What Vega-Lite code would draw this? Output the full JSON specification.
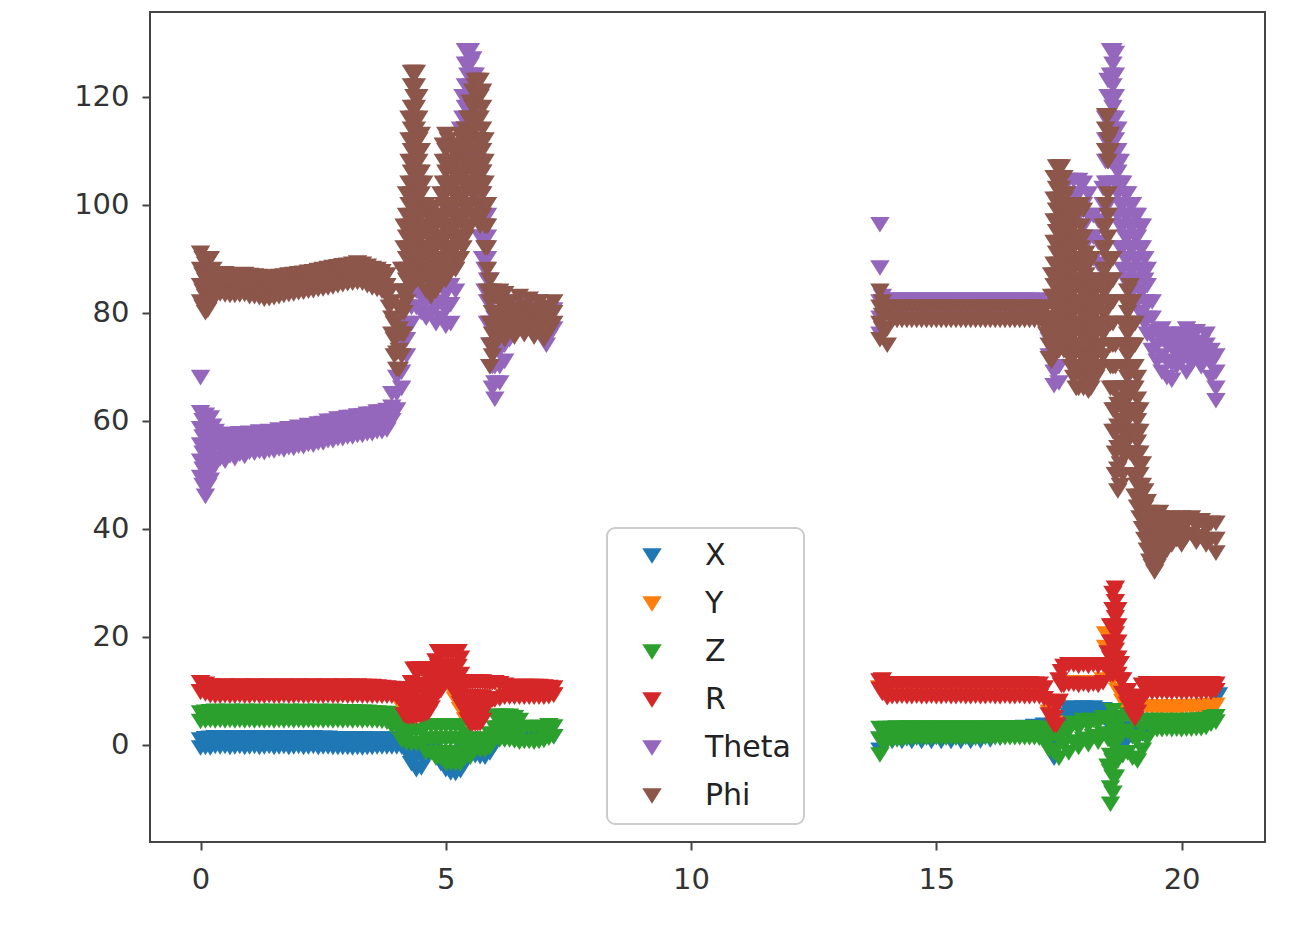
{
"$schema": "https://vega.github.io/schema/vega-lite/v6.json",
"width": 1115, "height": 830,
"autosize": {"type": "none"},
"padding": {"left": 150, "top": 12, "right": 35, "bottom": 85},
"background": "white",
"config": {
 "view": {"stroke": "#444444", "strokeWidth": 2},
 "axis": {"grid": false, "domain": false, "labelFont": "DejaVu Sans", "labelFontSize": 29, "labelColor": "#333333", "tickColor": "#444444", "tickWidth": 2, "tickSize": 8, "title": null},
 "legend": {"strokeWidth": 2}
},
"data": {"values": [
{"s":"X","t":0,"v":-0.6},{"s":"X","t":0,"v":0.9},{"s":"X","t":0.1,"v":1.1},{"s":"X","t":0.1,"v":-0.5},{"s":"X","t":0.2,"v":1.2},{"s":"X","t":0.2,"v":-0.6},{"s":"X","t":0.3,"v":1.3},{"s":"X","t":0.3,"v":-0.3},{"s":"X","t":0.4,"v":1.2},{"s":"X","t":0.4,"v":-0.4},{"s":"X","t":0.5,"v":1.3},{"s":"X","t":0.5,"v":-0.3},{"s":"X","t":0.6,"v":1.1},{"s":"X","t":0.6,"v":-0.5},{"s":"X","t":0.7,"v":1.2},{"s":"X","t":0.7,"v":-0.4},{"s":"X","t":0.8,"v":1.3},{"s":"X","t":0.8,"v":-0.3},{"s":"X","t":0.9,"v":1.1},{"s":"X","t":0.9,"v":-0.5},{"s":"X","t":1,"v":1.2},{"s":"X","t":1,"v":-0.4},{"s":"X","t":1.1,"v":1.3},{"s":"X","t":1.1,"v":-0.3},{"s":"X","t":1.2,"v":1.1},{"s":"X","t":1.2,"v":-0.5},{"s":"X","t":1.3,"v":1.2},{"s":"X","t":1.3,"v":-0.4},{"s":"X","t":1.4,"v":1.3},{"s":"X","t":1.4,"v":-0.3},{"s":"X","t":1.5,"v":1.1},{"s":"X","t":1.5,"v":-0.5},{"s":"X","t":1.6,"v":1.2},{"s":"X","t":1.6,"v":-0.4},{"s":"X","t":1.7,"v":1.3},{"s":"X","t":1.7,"v":-0.3},{"s":"X","t":1.8,"v":1.1},{"s":"X","t":1.8,"v":-0.5},{"s":"X","t":1.9,"v":1.2},{"s":"X","t":1.9,"v":-0.4},{"s":"X","t":2,"v":1.3},{"s":"X","t":2,"v":-0.3},{"s":"X","t":2.1,"v":1.1},{"s":"X","t":2.1,"v":-0.5},{"s":"X","t":2.2,"v":1.2},{"s":"X","t":2.2,"v":-0.4},{"s":"X","t":2.3,"v":1.3},{"s":"X","t":2.3,"v":-0.3},{"s":"X","t":2.4,"v":1.1},{"s":"X","t":2.4,"v":-0.5},{"s":"X","t":2.5,"v":1.2},{"s":"X","t":2.5,"v":-0.4},{"s":"X","t":2.6,"v":1.2},{"s":"X","t":2.6,"v":-0.4},{"s":"X","t":2.7,"v":1.1},{"s":"X","t":2.7,"v":-0.5},{"s":"X","t":2.8,"v":1.1},{"s":"X","t":2.8,"v":-0.5},{"s":"X","t":2.9,"v":1.1},{"s":"X","t":2.9,"v":-0.5},{"s":"X","t":3,"v":1},{"s":"X","t":3,"v":-0.5},{"s":"X","t":3.1,"v":1.1},{"s":"X","t":3.1,"v":-0.6},{"s":"X","t":3.2,"v":1},{"s":"X","t":3.2,"v":-0.5},{"s":"X","t":3.3,"v":1.1},{"s":"X","t":3.3,"v":-0.6},{"s":"X","t":3.4,"v":1},{"s":"X","t":3.4,"v":-0.5},{"s":"X","t":3.5,"v":1},{"s":"X","t":3.5,"v":-0.5},{"s":"X","t":3.6,"v":1},{"s":"X","t":3.6,"v":-0.4},{"s":"X","t":3.7,"v":1},{"s":"X","t":3.7,"v":-0.4},{"s":"X","t":3.8,"v":1},{"s":"X","t":3.8,"v":-0.4},
{"s":"X","t":3.9,"v":1},{"s":"X","t":3.9,"v":-0.4},{"s":"X","t":4,"v":1},{"s":"X","t":4,"v":-0.4},{"s":"X","t":4.1,"v":0.5},{"s":"X","t":4.1,"v":-0.4},{"s":"X","t":4.2,"v":-0.5},{"s":"X","t":4.2,"v":-1.5},{"s":"X","t":4.3,"v":-1.5},{"s":"X","t":4.3,"v":-3.5},{"s":"X","t":4.4,"v":-2},{"s":"X","t":4.4,"v":-4.6},{"s":"X","t":4.5,"v":-2},{"s":"X","t":4.5,"v":-4.3},{"s":"X","t":4.6,"v":-1},{"s":"X","t":4.6,"v":-2.5},{"s":"X","t":4.7,"v":-0.5},{"s":"X","t":4.7,"v":-1.2},{"s":"X","t":4.8,"v":-0.5},{"s":"X","t":4.8,"v":-2},{"s":"X","t":4.9,"v":-1.5},{"s":"X","t":4.9,"v":-3.5},{"s":"X","t":5,"v":-2},{"s":"X","t":5,"v":-4.6},{"s":"X","t":5.1,"v":-2.5},{"s":"X","t":5.1,"v":-5.2},{"s":"X","t":5.2,"v":-2.5},{"s":"X","t":5.2,"v":-5.3},{"s":"X","t":5.3,"v":-2},{"s":"X","t":5.3,"v":-4.8},{"s":"X","t":5.4,"v":-1},{"s":"X","t":5.4,"v":-3},{"s":"X","t":5.5,"v":-0.5},{"s":"X","t":5.5,"v":-2.2},{"s":"X","t":5.6,"v":-0.5},{"s":"X","t":5.6,"v":-2},{"s":"X","t":5.7,"v":-0.5},{"s":"X","t":5.7,"v":-2.2},{"s":"X","t":5.8,"v":-0.3},{"s":"X","t":5.8,"v":-2.3},{"s":"X","t":5.9,"v":0.5},{"s":"X","t":5.9,"v":-1.5},{"s":"X","t":6,"v":1.5},{"s":"X","t":6,"v":0},{"s":"X","t":6.1,"v":2},{"s":"X","t":6.2,"v":1},{"s":"X","t":6.3,"v":2},{"s":"X","t":6.4,"v":1},{"s":"X","t":6.5,"v":2},{"s":"X","t":6.6,"v":1},{"s":"X","t":6.7,"v":2},{"s":"X","t":6.8,"v":1},{"s":"X","t":6.9,"v":2},{"s":"X","t":7,"v":1},{"s":"X","t":7.1,"v":2},{"s":"X","t":7.2,"v":1.5},
{"s":"X","t":13.85,"v":-1},{"s":"X","t":13.85,"v":1},{"s":"X","t":13.9,"v":0.5},{"s":"X","t":14,"v":1.8},{"s":"X","t":14.1,"v":0.6},{"s":"X","t":14.2,"v":1.8},{"s":"X","t":14.3,"v":0.6},{"s":"X","t":14.4,"v":1.8},{"s":"X","t":14.5,"v":0.6},{"s":"X","t":14.6,"v":1.8},{"s":"X","t":14.7,"v":0.6},{"s":"X","t":14.8,"v":1.8},{"s":"X","t":14.9,"v":0.6},{"s":"X","t":15,"v":1.8},{"s":"X","t":15.1,"v":0.6},{"s":"X","t":15.2,"v":1.8},{"s":"X","t":15.3,"v":0.6},{"s":"X","t":15.4,"v":1.8},{"s":"X","t":15.5,"v":0.6},{"s":"X","t":15.6,"v":1.8},{"s":"X","t":15.7,"v":0.6},{"s":"X","t":15.8,"v":1.9},{"s":"X","t":15.9,"v":0.7},{"s":"X","t":16,"v":2},{"s":"X","t":16.1,"v":0.9},{"s":"X","t":16.2,"v":2.4},{"s":"X","t":16.3,"v":1.2},{"s":"X","t":16.4,"v":2.8},{"s":"X","t":16.5,"v":1.5},{"s":"X","t":16.6,"v":3},{"s":"X","t":16.7,"v":1.8},{"s":"X","t":16.8,"v":3.2},{"s":"X","t":16.9,"v":2},{"s":"X","t":17,"v":3.4},{"s":"X","t":17.1,"v":2.2},{"s":"X","t":17.2,"v":3.6},{"s":"X","t":17.2,"v":2},{"s":"X","t":17.3,"v":2},{"s":"X","t":17.3,"v":0},{"s":"X","t":17.4,"v":-1},{"s":"X","t":17.4,"v":-2.5},{"s":"X","t":17.5,"v":0},{"s":"X","t":17.5,"v":2},{"s":"X","t":17.6,"v":3},{"s":"X","t":17.6,"v":5},{"s":"X","t":17.7,"v":5.5},{"s":"X","t":17.7,"v":6.5},{"s":"X","t":17.8,"v":6},{"s":"X","t":17.8,"v":6.8},{"s":"X","t":17.9,"v":5.5},{"s":"X","t":17.9,"v":6.5},{"s":"X","t":18,"v":6},{"s":"X","t":18,"v":6.8},{"s":"X","t":18.1,"v":5.5},{"s":"X","t":18.1,"v":6.5},{"s":"X","t":18.2,"v":6},{"s":"X","t":18.2,"v":6.8},{"s":"X","t":18.3,"v":5.5},{"s":"X","t":18.3,"v":6.5},{"s":"X","t":18.4,"v":6},{"s":"X","t":18.4,"v":6.5},{"s":"X","t":18.5,"v":4},{"s":"X","t":18.5,"v":6},{"s":"X","t":18.6,"v":2},{"s":"X","t":18.6,"v":5},{"s":"X","t":18.7,"v":0},{"s":"X","t":18.7,"v":3},{"s":"X","t":18.8,"v":0},{"s":"X","t":18.8,"v":2},{"s":"X","t":18.9,"v":1},{"s":"X","t":18.9,"v":2.5},{"s":"X","t":19,"v":1.5},{"s":"X","t":19,"v":3},{"s":"X","t":19.1,"v":1.5},{"s":"X","t":19.1,"v":3},{"s":"X","t":19.2,"v":2},{"s":"X","t":19.3,"v":2.5},{"s":"X","t":19.4,"v":3},{"s":"X","t":19.6,"v":3.2},{"s":"X","t":19.8,"v":3.4},{"s":"X","t":20,"v":3.5},{"s":"X","t":20.2,"v":3.6},{"s":"X","t":20.4,"v":3.8},{"s":"X","t":20.5,"v":5},{"s":"X","t":20.6,"v":7},{"s":"X","t":20.7,"v":8.5},{"s":"X","t":20.75,"v":9.2},
{"s":"Y","t":0,"v":9.7},{"s":"Y","t":0.2,"v":9.3},{"s":"Y","t":0.4,"v":9.7},{"s":"Y","t":0.6,"v":9.3},{"s":"Y","t":0.8,"v":9.7},{"s":"Y","t":1,"v":9.3},{"s":"Y","t":1.2,"v":9.7},{"s":"Y","t":1.4,"v":9.3},{"s":"Y","t":1.6,"v":9.7},{"s":"Y","t":1.8,"v":9.3},{"s":"Y","t":2,"v":9.7},{"s":"Y","t":2.2,"v":9.3},{"s":"Y","t":2.4,"v":9.7},{"s":"Y","t":2.6,"v":9.3},{"s":"Y","t":2.8,"v":9.7},{"s":"Y","t":3,"v":9.3},{"s":"Y","t":3.2,"v":9.7},{"s":"Y","t":3.4,"v":9.3},{"s":"Y","t":3.6,"v":9.7},{"s":"Y","t":3.8,"v":9.3},
{"s":"Y","t":4,"v":8.5},{"s":"Y","t":4.1,"v":7},{"s":"Y","t":4.2,"v":6.5},{"s":"Y","t":4.3,"v":7},{"s":"Y","t":4.4,"v":7},{"s":"Y","t":4.5,"v":7},{"s":"Y","t":4.6,"v":7.5},{"s":"Y","t":4.7,"v":9},{"s":"Y","t":4.8,"v":11},{"s":"Y","t":4.9,"v":12.5},{"s":"Y","t":5,"v":13},{"s":"Y","t":5.1,"v":10.3},{"s":"Y","t":5.2,"v":8.4},{"s":"Y","t":5.3,"v":6.5},{"s":"Y","t":5.4,"v":4.6},{"s":"Y","t":5.5,"v":3.8},{"s":"Y","t":5.6,"v":4},{"s":"Y","t":5.7,"v":4.5},{"s":"Y","t":5.8,"v":6.5},{"s":"Y","t":5.9,"v":8},{"s":"Y","t":6,"v":8.5},{"s":"Y","t":6.2,"v":9},{"s":"Y","t":6.4,"v":9.2},{"s":"Y","t":6.6,"v":9},{"s":"Y","t":6.8,"v":9.2},{"s":"Y","t":7,"v":9},{"s":"Y","t":7.2,"v":9.2},
{"s":"Y","t":13.85,"v":10.5},{"s":"Y","t":14,"v":9.6},{"s":"Y","t":14.2,"v":10},{"s":"Y","t":14.4,"v":9.6},{"s":"Y","t":14.6,"v":10},{"s":"Y","t":14.8,"v":9.6},{"s":"Y","t":15,"v":10},{"s":"Y","t":15.2,"v":9.6},{"s":"Y","t":15.4,"v":10},{"s":"Y","t":15.6,"v":9.6},{"s":"Y","t":15.8,"v":10},{"s":"Y","t":16,"v":9.6},{"s":"Y","t":16.2,"v":10},{"s":"Y","t":16.4,"v":9.6},{"s":"Y","t":16.6,"v":10},{"s":"Y","t":16.8,"v":9.6},{"s":"Y","t":17,"v":10},{"s":"Y","t":17.3,"v":6},{"s":"Y","t":17.4,"v":4},{"s":"Y","t":17.5,"v":8},{"s":"Y","t":17.6,"v":11.5},{"s":"Y","t":17.8,"v":11.5},{"s":"Y","t":18,"v":11.5},{"s":"Y","t":18.2,"v":11.5},{"s":"Y","t":18.4,"v":12},{"s":"Y","t":18.45,"v":18},{"s":"Y","t":18.45,"v":20.5},{"s":"Y","t":18.5,"v":14},{"s":"Y","t":18.6,"v":12},{"s":"Y","t":18.7,"v":10},{"s":"Y","t":18.8,"v":8},{"s":"Y","t":18.9,"v":6},{"s":"Y","t":19,"v":5},{"s":"Y","t":19.1,"v":6},{"s":"Y","t":19.2,"v":7},{"s":"Y","t":19.3,"v":7},{"s":"Y","t":19.4,"v":6.8},{"s":"Y","t":19.5,"v":7},{"s":"Y","t":19.6,"v":6.7},{"s":"Y","t":19.7,"v":7},{"s":"Y","t":19.8,"v":6.6},{"s":"Y","t":19.9,"v":7},{"s":"Y","t":20,"v":6.7},{"s":"Y","t":20.1,"v":7.1},{"s":"Y","t":20.2,"v":6.8},{"s":"Y","t":20.3,"v":7.1},{"s":"Y","t":20.4,"v":6.9},{"s":"Y","t":20.5,"v":7.2},{"s":"Y","t":20.6,"v":7},{"s":"Y","t":20.7,"v":7.3},
{"s":"Z","t":0,"v":5.9},{"s":"Z","t":0,"v":4.3},{"s":"Z","t":0.1,"v":6},{"s":"Z","t":0.1,"v":4.4},{"s":"Z","t":0.2,"v":6.1},{"s":"Z","t":0.2,"v":4.5},{"s":"Z","t":0.3,"v":6.2},{"s":"Z","t":0.3,"v":4.4},{"s":"Z","t":0.4,"v":6},{"s":"Z","t":0.4,"v":4.5},{"s":"Z","t":0.5,"v":6.1},{"s":"Z","t":0.5,"v":4.4},{"s":"Z","t":0.6,"v":6.2},{"s":"Z","t":0.6,"v":4.5},{"s":"Z","t":0.7,"v":6},{"s":"Z","t":0.7,"v":4.4},{"s":"Z","t":0.8,"v":6.1},{"s":"Z","t":0.8,"v":4.5},{"s":"Z","t":0.9,"v":6.2},{"s":"Z","t":0.9,"v":4.4},{"s":"Z","t":1,"v":6},{"s":"Z","t":1,"v":4.5},{"s":"Z","t":1.1,"v":6.1},{"s":"Z","t":1.1,"v":4.4},{"s":"Z","t":1.2,"v":6.2},{"s":"Z","t":1.2,"v":4.5},{"s":"Z","t":1.3,"v":6},{"s":"Z","t":1.3,"v":4.4},{"s":"Z","t":1.4,"v":6.1},{"s":"Z","t":1.4,"v":4.5},{"s":"Z","t":1.5,"v":6.2},{"s":"Z","t":1.5,"v":4.4},{"s":"Z","t":1.6,"v":6},{"s":"Z","t":1.6,"v":4.5},{"s":"Z","t":1.7,"v":6.1},{"s":"Z","t":1.7,"v":4.4},{"s":"Z","t":1.8,"v":6.2},{"s":"Z","t":1.8,"v":4.5},{"s":"Z","t":1.9,"v":6},{"s":"Z","t":1.9,"v":4.4},{"s":"Z","t":2,"v":6.1},{"s":"Z","t":2,"v":4.5},{"s":"Z","t":2.1,"v":6.2},{"s":"Z","t":2.1,"v":4.4},{"s":"Z","t":2.2,"v":6},{"s":"Z","t":2.2,"v":4.5},{"s":"Z","t":2.3,"v":6.1},{"s":"Z","t":2.3,"v":4.4},{"s":"Z","t":2.4,"v":6.2},{"s":"Z","t":2.4,"v":4.5},{"s":"Z","t":2.5,"v":6},{"s":"Z","t":2.5,"v":4.4},{"s":"Z","t":2.6,"v":6.1},{"s":"Z","t":2.6,"v":4.5},{"s":"Z","t":2.7,"v":6.2},{"s":"Z","t":2.7,"v":4.4},{"s":"Z","t":2.8,"v":6},{"s":"Z","t":2.8,"v":4.5},{"s":"Z","t":2.9,"v":6.1},{"s":"Z","t":2.9,"v":4.4},{"s":"Z","t":3,"v":6},{"s":"Z","t":3,"v":4.5},{"s":"Z","t":3.1,"v":6.1},{"s":"Z","t":3.1,"v":4.4},{"s":"Z","t":3.2,"v":6},{"s":"Z","t":3.2,"v":4.5},{"s":"Z","t":3.3,"v":6},{"s":"Z","t":3.3,"v":4.4},{"s":"Z","t":3.4,"v":6},{"s":"Z","t":3.4,"v":4.5},{"s":"Z","t":3.5,"v":5.9},{"s":"Z","t":3.5,"v":4.4},{"s":"Z","t":3.6,"v":5.9},{"s":"Z","t":3.6,"v":4.4},{"s":"Z","t":3.7,"v":5.8},{"s":"Z","t":3.7,"v":4.3},{"s":"Z","t":3.8,"v":5.8},{"s":"Z","t":3.8,"v":4.2},
{"s":"Z","t":3.9,"v":5.5},{"s":"Z","t":3.9,"v":3.4},{"s":"Z","t":4,"v":5.5},{"s":"Z","t":4,"v":3.4},{"s":"Z","t":4.1,"v":5},{"s":"Z","t":4.1,"v":2.8},{"s":"Z","t":4.1,"v":0.8},{"s":"Z","t":4.2,"v":3.5},{"s":"Z","t":4.2,"v":1.3},{"s":"Z","t":4.2,"v":0.3},{"s":"Z","t":4.3,"v":2.5},{"s":"Z","t":4.3,"v":0.2},{"s":"Z","t":4.4,"v":2.5},{"s":"Z","t":4.4,"v":0.2},{"s":"Z","t":4.5,"v":2.5},{"s":"Z","t":4.5,"v":0.2},{"s":"Z","t":4.6,"v":3.5},{"s":"Z","t":4.6,"v":1},{"s":"Z","t":4.6,"v":-1.5},{"s":"Z","t":4.7,"v":3.5},{"s":"Z","t":4.7,"v":1},{"s":"Z","t":4.7,"v":-1.5},{"s":"Z","t":4.8,"v":3.5},{"s":"Z","t":4.8,"v":1},{"s":"Z","t":4.8,"v":-1.5},{"s":"Z","t":4.8,"v":-2.5},{"s":"Z","t":4.9,"v":3.5},{"s":"Z","t":4.9,"v":1},{"s":"Z","t":4.9,"v":-1.5},{"s":"Z","t":4.9,"v":-2.5},{"s":"Z","t":5,"v":3.5},{"s":"Z","t":5,"v":1},{"s":"Z","t":5,"v":-1.5},{"s":"Z","t":5,"v":-3.5},{"s":"Z","t":5.1,"v":3.5},{"s":"Z","t":5.1,"v":1},{"s":"Z","t":5.1,"v":-1.5},{"s":"Z","t":5.1,"v":-3.5},{"s":"Z","t":5.2,"v":3.5},{"s":"Z","t":5.2,"v":1},{"s":"Z","t":5.2,"v":-1.5},{"s":"Z","t":5.2,"v":-3.5},{"s":"Z","t":5.3,"v":3.5},{"s":"Z","t":5.3,"v":1},{"s":"Z","t":5.3,"v":-1.5},{"s":"Z","t":5.3,"v":-3.5},{"s":"Z","t":5.4,"v":2},{"s":"Z","t":5.4,"v":-0.5},{"s":"Z","t":5.4,"v":-2.3},{"s":"Z","t":5.5,"v":1},{"s":"Z","t":5.5,"v":-1.3},{"s":"Z","t":5.5,"v":-2.3},{"s":"Z","t":5.6,"v":1},{"s":"Z","t":5.6,"v":-1},{"s":"Z","t":5.7,"v":1},{"s":"Z","t":5.7,"v":-1},{"s":"Z","t":5.8,"v":1},{"s":"Z","t":5.8,"v":-1},{"s":"Z","t":5.9,"v":2},{"s":"Z","t":5.9,"v":-0.5},{"s":"Z","t":6,"v":5.3},{"s":"Z","t":6,"v":3.1},{"s":"Z","t":6,"v":0.9},{"s":"Z","t":6.1,"v":5.3},{"s":"Z","t":6.1,"v":3.1},{"s":"Z","t":6.1,"v":0.9},{"s":"Z","t":6.2,"v":5.3},{"s":"Z","t":6.2,"v":3.1},{"s":"Z","t":6.2,"v":0.9},{"s":"Z","t":6.3,"v":5.3},{"s":"Z","t":6.3,"v":3.1},{"s":"Z","t":6.3,"v":0.9},{"s":"Z","t":6.4,"v":5},{"s":"Z","t":6.4,"v":2.8},{"s":"Z","t":6.4,"v":0.7},{"s":"Z","t":6.5,"v":4.5},{"s":"Z","t":6.5,"v":2.5},{"s":"Z","t":6.5,"v":0.5},{"s":"Z","t":6.6,"v":3.2},{"s":"Z","t":6.6,"v":0.6},{"s":"Z","t":6.7,"v":3.2},{"s":"Z","t":6.7,"v":0.6},{"s":"Z","t":6.8,"v":3.1},{"s":"Z","t":6.8,"v":0.5},{"s":"Z","t":6.9,"v":3.2},{"s":"Z","t":6.9,"v":0.6},{"s":"Z","t":7,"v":3.2},{"s":"Z","t":7,"v":0.8},{"s":"Z","t":7.1,"v":3.5},{"s":"Z","t":7.1,"v":1.2},{"s":"Z","t":7.2,"v":3.3},{"s":"Z","t":7.2,"v":1.5},
{"s":"Z","t":13.85,"v":-1.9},{"s":"Z","t":13.85,"v":1},{"s":"Z","t":13.85,"v":3},{"s":"Z","t":13.9,"v":0.5},{"s":"Z","t":13.9,"v":2.8},{"s":"Z","t":14,"v":0.6},{"s":"Z","t":14,"v":3},{"s":"Z","t":14.1,"v":3},{"s":"Z","t":14.1,"v":0.8},{"s":"Z","t":14.2,"v":3.1},{"s":"Z","t":14.2,"v":0.9},{"s":"Z","t":14.3,"v":3},{"s":"Z","t":14.3,"v":1},{"s":"Z","t":14.4,"v":3.1},{"s":"Z","t":14.4,"v":1.1},{"s":"Z","t":14.5,"v":3.1},{"s":"Z","t":14.5,"v":1.2},{"s":"Z","t":14.6,"v":3},{"s":"Z","t":14.6,"v":1.2},{"s":"Z","t":14.7,"v":3.1},{"s":"Z","t":14.7,"v":1.3},{"s":"Z","t":14.8,"v":3.1},{"s":"Z","t":14.8,"v":1.2},{"s":"Z","t":14.9,"v":3},{"s":"Z","t":14.9,"v":1.2},{"s":"Z","t":15,"v":3.1},{"s":"Z","t":15,"v":1.3},{"s":"Z","t":15.1,"v":3.1},{"s":"Z","t":15.1,"v":1.2},{"s":"Z","t":15.2,"v":3},{"s":"Z","t":15.2,"v":1.2},{"s":"Z","t":15.3,"v":3.1},{"s":"Z","t":15.3,"v":1.3},{"s":"Z","t":15.4,"v":3.1},{"s":"Z","t":15.4,"v":1.2},{"s":"Z","t":15.5,"v":3},{"s":"Z","t":15.5,"v":1.2},{"s":"Z","t":15.6,"v":3.1},{"s":"Z","t":15.6,"v":1.3},{"s":"Z","t":15.7,"v":3.1},{"s":"Z","t":15.7,"v":1.2},{"s":"Z","t":15.8,"v":3},{"s":"Z","t":15.8,"v":1.2},{"s":"Z","t":15.9,"v":3.1},{"s":"Z","t":15.9,"v":1.3},{"s":"Z","t":16,"v":3.1},{"s":"Z","t":16,"v":1.3},{"s":"Z","t":16.1,"v":3.1},{"s":"Z","t":16.1,"v":1.3},{"s":"Z","t":16.2,"v":3.1},{"s":"Z","t":16.2,"v":1.3},{"s":"Z","t":16.3,"v":3.1},{"s":"Z","t":16.3,"v":1.3},{"s":"Z","t":16.4,"v":3.1},{"s":"Z","t":16.4,"v":1.3},{"s":"Z","t":16.5,"v":3.1},{"s":"Z","t":16.5,"v":1.3},{"s":"Z","t":16.6,"v":3.1},{"s":"Z","t":16.6,"v":1.3},{"s":"Z","t":16.7,"v":3.1},{"s":"Z","t":16.7,"v":1.3},{"s":"Z","t":16.8,"v":3.1},{"s":"Z","t":16.8,"v":1.3},{"s":"Z","t":16.9,"v":3.1},{"s":"Z","t":16.9,"v":1.3},{"s":"Z","t":17,"v":3.1},{"s":"Z","t":17,"v":1.3},{"s":"Z","t":17.1,"v":3},{"s":"Z","t":17.1,"v":1.2},
{"s":"Z","t":17.2,"v":2.5},{"s":"Z","t":17.2,"v":0.5},{"s":"Z","t":17.3,"v":1},{"s":"Z","t":17.3,"v":-1},{"s":"Z","t":17.4,"v":-1.5},{"s":"Z","t":17.4,"v":2},{"s":"Z","t":17.5,"v":-2.5},{"s":"Z","t":17.5,"v":1},{"s":"Z","t":17.6,"v":0},{"s":"Z","t":17.6,"v":3},{"s":"Z","t":17.7,"v":-1.5},{"s":"Z","t":17.7,"v":2.5},{"s":"Z","t":17.8,"v":0.5},{"s":"Z","t":17.8,"v":4},{"s":"Z","t":17.9,"v":-0.5},{"s":"Z","t":17.9,"v":3},{"s":"Z","t":18,"v":1},{"s":"Z","t":18,"v":4.5},{"s":"Z","t":18.1,"v":0},{"s":"Z","t":18.1,"v":3.5},{"s":"Z","t":18.2,"v":1.5},{"s":"Z","t":18.2,"v":4.5},{"s":"Z","t":18.3,"v":0.5},{"s":"Z","t":18.3,"v":4},{"s":"Z","t":18.4,"v":2},{"s":"Z","t":18.4,"v":5},{"s":"Z","t":18.5,"v":-4},{"s":"Z","t":18.5,"v":1},{"s":"Z","t":18.5,"v":5},{"s":"Z","t":18.55,"v":-11},{"s":"Z","t":18.55,"v":-8},{"s":"Z","t":18.55,"v":-5},{"s":"Z","t":18.55,"v":-2},{"s":"Z","t":18.55,"v":1},{"s":"Z","t":18.55,"v":4},{"s":"Z","t":18.6,"v":-9},{"s":"Z","t":18.6,"v":-6},{"s":"Z","t":18.6,"v":-3},{"s":"Z","t":18.6,"v":0},{"s":"Z","t":18.6,"v":3},{"s":"Z","t":18.6,"v":6.3},{"s":"Z","t":18.65,"v":-6},{"s":"Z","t":18.65,"v":-3},{"s":"Z","t":18.65,"v":0},{"s":"Z","t":18.65,"v":3},{"s":"Z","t":18.7,"v":-3},{"s":"Z","t":18.7,"v":1},{"s":"Z","t":18.7,"v":4},{"s":"Z","t":18.8,"v":-2},{"s":"Z","t":18.8,"v":2},{"s":"Z","t":18.8,"v":5},{"s":"Z","t":18.9,"v":-1.5},{"s":"Z","t":18.9,"v":2.5},{"s":"Z","t":18.9,"v":5.5},{"s":"Z","t":19,"v":-2.5},{"s":"Z","t":19,"v":1.5},{"s":"Z","t":19,"v":5},{"s":"Z","t":19.1,"v":-3},{"s":"Z","t":19.1,"v":1},{"s":"Z","t":19.1,"v":4.5},{"s":"Z","t":19.2,"v":-1},{"s":"Z","t":19.2,"v":3},{"s":"Z","t":19.3,"v":1},{"s":"Z","t":19.3,"v":4.5},{"s":"Z","t":19.4,"v":2.8},{"s":"Z","t":19.4,"v":4.5},{"s":"Z","t":19.5,"v":4.4},{"s":"Z","t":19.5,"v":2.8},{"s":"Z","t":19.6,"v":4.5},{"s":"Z","t":19.6,"v":2.8},{"s":"Z","t":19.7,"v":4.5},{"s":"Z","t":19.7,"v":2.9},{"s":"Z","t":19.8,"v":4.4},{"s":"Z","t":19.8,"v":2.8},{"s":"Z","t":19.9,"v":4.4},{"s":"Z","t":19.9,"v":2.9},{"s":"Z","t":20,"v":4.5},{"s":"Z","t":20,"v":2.8},{"s":"Z","t":20.1,"v":4.5},{"s":"Z","t":20.1,"v":2.9},{"s":"Z","t":20.2,"v":4.5},{"s":"Z","t":20.2,"v":2.9},{"s":"Z","t":20.3,"v":4.5},{"s":"Z","t":20.3,"v":3},{"s":"Z","t":20.4,"v":4.6},{"s":"Z","t":20.4,"v":3},{"s":"Z","t":20.5,"v":4.6},{"s":"Z","t":20.5,"v":3.2},{"s":"Z","t":20.6,"v":5},{"s":"Z","t":20.6,"v":3.8},{"s":"Z","t":20.7,"v":5.2},{"s":"Z","t":20.7,"v":4.2},
{"s":"R","t":0,"v":11.5},{"s":"R","t":0,"v":9.8},{"s":"R","t":0.1,"v":11.2},{"s":"R","t":0.1,"v":9.4},{"s":"R","t":0.2,"v":10.9},{"s":"R","t":0.2,"v":9.1},{"s":"R","t":0.3,"v":10.8},{"s":"R","t":0.3,"v":9},{"s":"R","t":0.4,"v":10.8},{"s":"R","t":0.4,"v":9},{"s":"R","t":0.5,"v":10.9},{"s":"R","t":0.5,"v":9.1},{"s":"R","t":0.6,"v":10.8},{"s":"R","t":0.6,"v":9},{"s":"R","t":0.7,"v":10.8},{"s":"R","t":0.7,"v":9},{"s":"R","t":0.8,"v":10.9},{"s":"R","t":0.8,"v":9.1},{"s":"R","t":0.9,"v":10.8},{"s":"R","t":0.9,"v":9},{"s":"R","t":1,"v":10.8},{"s":"R","t":1,"v":9},{"s":"R","t":1.1,"v":10.9},{"s":"R","t":1.1,"v":9.1},{"s":"R","t":1.2,"v":10.8},{"s":"R","t":1.2,"v":9},{"s":"R","t":1.3,"v":10.8},{"s":"R","t":1.3,"v":9},{"s":"R","t":1.4,"v":10.9},{"s":"R","t":1.4,"v":9.1},{"s":"R","t":1.5,"v":10.8},{"s":"R","t":1.5,"v":9},{"s":"R","t":1.6,"v":10.8},{"s":"R","t":1.6,"v":9},{"s":"R","t":1.7,"v":10.9},{"s":"R","t":1.7,"v":9.1},{"s":"R","t":1.8,"v":10.8},{"s":"R","t":1.8,"v":9},{"s":"R","t":1.9,"v":10.8},{"s":"R","t":1.9,"v":9},{"s":"R","t":2,"v":10.9},{"s":"R","t":2,"v":9.1},{"s":"R","t":2.1,"v":10.8},{"s":"R","t":2.1,"v":9},{"s":"R","t":2.2,"v":10.8},{"s":"R","t":2.2,"v":9},{"s":"R","t":2.3,"v":10.9},{"s":"R","t":2.3,"v":9.1},{"s":"R","t":2.4,"v":10.8},{"s":"R","t":2.4,"v":9},{"s":"R","t":2.5,"v":10.8},{"s":"R","t":2.5,"v":9},{"s":"R","t":2.6,"v":10.9},{"s":"R","t":2.6,"v":9.1},{"s":"R","t":2.7,"v":10.8},{"s":"R","t":2.7,"v":9},{"s":"R","t":2.8,"v":10.8},{"s":"R","t":2.8,"v":9},{"s":"R","t":2.9,"v":10.9},{"s":"R","t":2.9,"v":9.1},{"s":"R","t":3,"v":10.8},{"s":"R","t":3,"v":9},{"s":"R","t":3.1,"v":10.8},{"s":"R","t":3.1,"v":9},{"s":"R","t":3.2,"v":10.9},{"s":"R","t":3.2,"v":9.1},{"s":"R","t":3.3,"v":10.8},{"s":"R","t":3.3,"v":9},{"s":"R","t":3.4,"v":10.8},{"s":"R","t":3.4,"v":9},{"s":"R","t":3.5,"v":10.8},{"s":"R","t":3.5,"v":9},{"s":"R","t":3.6,"v":10.7},{"s":"R","t":3.6,"v":9},{"s":"R","t":3.7,"v":10.6},{"s":"R","t":3.7,"v":9},{"s":"R","t":3.8,"v":10.5},{"s":"R","t":3.8,"v":9},{"s":"R","t":3.9,"v":10.4},{"s":"R","t":3.9,"v":9},
{"s":"R","t":4,"v":10.3},{"s":"R","t":4,"v":8.9},{"s":"R","t":4.05,"v":10.3},{"s":"R","t":4.05,"v":8.5},{"s":"R","t":4.1,"v":10.3},{"s":"R","t":4.1,"v":7.8},{"s":"R","t":4.15,"v":10.3},{"s":"R","t":4.15,"v":7.5},{"s":"R","t":4.15,"v":5.5},{"s":"R","t":4.2,"v":10.3},{"s":"R","t":4.2,"v":7.5},{"s":"R","t":4.2,"v":5.2},{"s":"R","t":4.25,"v":10.3},{"s":"R","t":4.25,"v":7.5},{"s":"R","t":4.25,"v":5.2},{"s":"R","t":4.3,"v":11.5},{"s":"R","t":4.3,"v":8.5},{"s":"R","t":4.3,"v":5.2},{"s":"R","t":4.35,"v":14},{"s":"R","t":4.35,"v":11},{"s":"R","t":4.35,"v":8},{"s":"R","t":4.35,"v":5.2},{"s":"R","t":4.4,"v":14},{"s":"R","t":4.4,"v":11},{"s":"R","t":4.4,"v":8},{"s":"R","t":4.4,"v":5.2},{"s":"R","t":4.45,"v":14},{"s":"R","t":4.45,"v":11},{"s":"R","t":4.45,"v":8},{"s":"R","t":4.45,"v":5.5},{"s":"R","t":4.5,"v":14},{"s":"R","t":4.5,"v":11},{"s":"R","t":4.5,"v":8},{"s":"R","t":4.5,"v":5.5},{"s":"R","t":4.55,"v":14},{"s":"R","t":4.55,"v":11},{"s":"R","t":4.55,"v":8},{"s":"R","t":4.55,"v":5.6},{"s":"R","t":4.6,"v":14},{"s":"R","t":4.6,"v":11},{"s":"R","t":4.6,"v":8},{"s":"R","t":4.6,"v":5.7},{"s":"R","t":4.65,"v":14},{"s":"R","t":4.65,"v":11},{"s":"R","t":4.65,"v":8.5},{"s":"R","t":4.65,"v":6},{"s":"R","t":4.7,"v":14},{"s":"R","t":4.7,"v":11.5},{"s":"R","t":4.7,"v":8.5},{"s":"R","t":4.7,"v":6.8},{"s":"R","t":4.75,"v":14},{"s":"R","t":4.75,"v":11.5},{"s":"R","t":4.75,"v":8.5},{"s":"R","t":4.8,"v":15.5},{"s":"R","t":4.8,"v":12.5},{"s":"R","t":4.8,"v":9.5},{"s":"R","t":4.85,"v":17.2},{"s":"R","t":4.85,"v":14.5},{"s":"R","t":4.85,"v":11.8},{"s":"R","t":4.85,"v":9.6},{"s":"R","t":4.9,"v":17.2},{"s":"R","t":4.9,"v":14.5},{"s":"R","t":4.9,"v":11.8},{"s":"R","t":4.9,"v":10},{"s":"R","t":4.95,"v":17.2},{"s":"R","t":4.95,"v":14.5},{"s":"R","t":4.95,"v":11.5},{"s":"R","t":5,"v":17.2},{"s":"R","t":5,"v":14.5},{"s":"R","t":5,"v":12.2},{"s":"R","t":5.05,"v":17.2},{"s":"R","t":5.05,"v":14.5},{"s":"R","t":5.05,"v":12.2},{"s":"R","t":5.1,"v":17.2},{"s":"R","t":5.1,"v":14.5},{"s":"R","t":5.1,"v":11.5},{"s":"R","t":5.15,"v":17.2},{"s":"R","t":5.15,"v":14.5},{"s":"R","t":5.15,"v":11.8},{"s":"R","t":5.15,"v":10.2},{"s":"R","t":5.2,"v":17.2},{"s":"R","t":5.2,"v":14.5},{"s":"R","t":5.2,"v":11.8},{"s":"R","t":5.2,"v":9.5},{"s":"R","t":5.25,"v":17.2},{"s":"R","t":5.25,"v":14.5},{"s":"R","t":5.25,"v":11.5},{"s":"R","t":5.25,"v":8.8},{"s":"R","t":5.3,"v":16},{"s":"R","t":5.3,"v":13},{"s":"R","t":5.3,"v":10},{"s":"R","t":5.3,"v":7.6},{"s":"R","t":5.35,"v":11.6},{"s":"R","t":5.35,"v":9},{"s":"R","t":5.35,"v":6.8},{"s":"R","t":5.4,"v":11.6},{"s":"R","t":5.4,"v":8.8},{"s":"R","t":5.4,"v":6},{"s":"R","t":5.45,"v":11.6},{"s":"R","t":5.45,"v":8.8},{"s":"R","t":5.45,"v":6.2},{"s":"R","t":5.45,"v":4.6},{"s":"R","t":5.5,"v":11.6},{"s":"R","t":5.5,"v":8.8},{"s":"R","t":5.5,"v":6.2},{"s":"R","t":5.5,"v":3.9},{"s":"R","t":5.55,"v":11.6},{"s":"R","t":5.55,"v":8.8},{"s":"R","t":5.55,"v":6.2},{"s":"R","t":5.55,"v":3.9},{"s":"R","t":5.6,"v":11.6},{"s":"R","t":5.6,"v":8.8},{"s":"R","t":5.6,"v":6.2},{"s":"R","t":5.6,"v":3.9},{"s":"R","t":5.65,"v":11.6},{"s":"R","t":5.65,"v":8.8},{"s":"R","t":5.65,"v":6.2},{"s":"R","t":5.65,"v":3.9},{"s":"R","t":5.7,"v":11.6},{"s":"R","t":5.7,"v":8.8},{"s":"R","t":5.7,"v":6.2},{"s":"R","t":5.7,"v":3.9},{"s":"R","t":5.75,"v":11.6},{"s":"R","t":5.75,"v":8.8},{"s":"R","t":5.75,"v":6.2},{"s":"R","t":5.75,"v":4.5},{"s":"R","t":5.8,"v":11.5},{"s":"R","t":5.8,"v":8.5},{"s":"R","t":5.8,"v":6.5},{"s":"R","t":5.85,"v":11.5},{"s":"R","t":5.85,"v":8.5},{"s":"R","t":5.9,"v":11.5},{"s":"R","t":5.9,"v":8.3},{"s":"R","t":5.95,"v":11.5},{"s":"R","t":5.95,"v":8.3},{"s":"R","t":6,"v":11.5},{"s":"R","t":6,"v":8.3},{"s":"R","t":6.1,"v":11.3},{"s":"R","t":6.1,"v":8.5},{"s":"R","t":6.2,"v":11},{"s":"R","t":6.2,"v":8.8},{"s":"R","t":6.3,"v":10.8},{"s":"R","t":6.3,"v":8.8},{"s":"R","t":6.4,"v":10.8},{"s":"R","t":6.4,"v":8.8},{"s":"R","t":6.5,"v":10.8},{"s":"R","t":6.5,"v":8.8},{"s":"R","t":6.6,"v":10.8},{"s":"R","t":6.6,"v":8.8},{"s":"R","t":6.7,"v":10.8},{"s":"R","t":6.7,"v":8.8},{"s":"R","t":6.8,"v":10.8},{"s":"R","t":6.8,"v":8.8},{"s":"R","t":6.9,"v":10.8},{"s":"R","t":6.9,"v":8.8},{"s":"R","t":7,"v":10.7},{"s":"R","t":7,"v":8.8},{"s":"R","t":7.1,"v":10.6},{"s":"R","t":7.1,"v":8.9},{"s":"R","t":7.2,"v":10.5},{"s":"R","t":7.2,"v":9.2},
{"s":"R","t":13.85,"v":11.8},{"s":"R","t":13.85,"v":10.3},{"s":"R","t":13.9,"v":12},{"s":"R","t":13.9,"v":9.5},{"s":"R","t":14,"v":11},{"s":"R","t":14,"v":8.7},{"s":"R","t":14.1,"v":11.3},{"s":"R","t":14.1,"v":8.9},{"s":"R","t":14.2,"v":11.3},{"s":"R","t":14.2,"v":8.9},{"s":"R","t":14.3,"v":11.2},{"s":"R","t":14.3,"v":9},{"s":"R","t":14.4,"v":11.3},{"s":"R","t":14.4,"v":8.9},{"s":"R","t":14.5,"v":11.3},{"s":"R","t":14.5,"v":8.9},{"s":"R","t":14.6,"v":11.2},{"s":"R","t":14.6,"v":9},{"s":"R","t":14.7,"v":11.3},{"s":"R","t":14.7,"v":8.9},{"s":"R","t":14.8,"v":11.3},{"s":"R","t":14.8,"v":8.9},{"s":"R","t":14.9,"v":11.2},{"s":"R","t":14.9,"v":9},{"s":"R","t":15,"v":11.3},{"s":"R","t":15,"v":8.9},{"s":"R","t":15.1,"v":11.3},{"s":"R","t":15.1,"v":8.9},{"s":"R","t":15.2,"v":11.2},{"s":"R","t":15.2,"v":9},{"s":"R","t":15.3,"v":11.3},{"s":"R","t":15.3,"v":8.9},{"s":"R","t":15.4,"v":11.3},{"s":"R","t":15.4,"v":8.9},{"s":"R","t":15.5,"v":11.2},{"s":"R","t":15.5,"v":9},{"s":"R","t":15.6,"v":11.3},{"s":"R","t":15.6,"v":8.9},{"s":"R","t":15.7,"v":11.3},{"s":"R","t":15.7,"v":8.9},{"s":"R","t":15.8,"v":11.2},{"s":"R","t":15.8,"v":9},{"s":"R","t":15.9,"v":11.3},{"s":"R","t":15.9,"v":8.9},{"s":"R","t":16,"v":11.3},{"s":"R","t":16,"v":8.9},{"s":"R","t":16.1,"v":11.2},{"s":"R","t":16.1,"v":9},{"s":"R","t":16.2,"v":11.3},{"s":"R","t":16.2,"v":8.9},{"s":"R","t":16.3,"v":11.3},{"s":"R","t":16.3,"v":8.9},{"s":"R","t":16.4,"v":11.2},{"s":"R","t":16.4,"v":9},{"s":"R","t":16.5,"v":11.3},{"s":"R","t":16.5,"v":8.9},{"s":"R","t":16.6,"v":11.3},{"s":"R","t":16.6,"v":8.9},{"s":"R","t":16.7,"v":11.2},{"s":"R","t":16.7,"v":9},{"s":"R","t":16.8,"v":11.3},{"s":"R","t":16.8,"v":8.9},{"s":"R","t":16.9,"v":11.3},{"s":"R","t":16.9,"v":8.9},{"s":"R","t":17,"v":11.2},{"s":"R","t":17,"v":9},{"s":"R","t":17.1,"v":11.2},{"s":"R","t":17.1,"v":8.9},
{"s":"R","t":17.2,"v":10.5},{"s":"R","t":17.2,"v":8.5},{"s":"R","t":17.3,"v":8},{"s":"R","t":17.3,"v":5.5},{"s":"R","t":17.4,"v":5},{"s":"R","t":17.4,"v":3.6},{"s":"R","t":17.45,"v":3.6},{"s":"R","t":17.45,"v":7},{"s":"R","t":17.5,"v":8},{"s":"R","t":17.5,"v":12},{"s":"R","t":17.55,"v":11},{"s":"R","t":17.55,"v":13.5},{"s":"R","t":17.6,"v":14.5},{"s":"R","t":17.6,"v":11},{"s":"R","t":17.7,"v":14.8},{"s":"R","t":17.7,"v":11.2},{"s":"R","t":17.8,"v":14.8},{"s":"R","t":17.8,"v":11.2},{"s":"R","t":17.9,"v":14.5},{"s":"R","t":17.9,"v":11},{"s":"R","t":18,"v":14.8},{"s":"R","t":18,"v":11.2},{"s":"R","t":18.1,"v":14.5},{"s":"R","t":18.1,"v":11},{"s":"R","t":18.2,"v":14.8},{"s":"R","t":18.2,"v":11.2},{"s":"R","t":18.3,"v":14.5},{"s":"R","t":18.3,"v":11},{"s":"R","t":18.4,"v":14.8},{"s":"R","t":18.4,"v":11.5},{"s":"R","t":18.5,"v":14},{"s":"R","t":18.5,"v":17},{"s":"R","t":18.55,"v":13},{"s":"R","t":18.55,"v":16},{"s":"R","t":18.55,"v":19},{"s":"R","t":18.55,"v":22},{"s":"R","t":18.6,"v":13},{"s":"R","t":18.6,"v":16},{"s":"R","t":18.6,"v":19},{"s":"R","t":18.6,"v":22},{"s":"R","t":18.6,"v":25},{"s":"R","t":18.6,"v":28},{"s":"R","t":18.65,"v":14.5},{"s":"R","t":18.65,"v":17.5},{"s":"R","t":18.65,"v":20.5},{"s":"R","t":18.65,"v":23.5},{"s":"R","t":18.65,"v":26.5},{"s":"R","t":18.65,"v":29},{"s":"R","t":18.7,"v":13},{"s":"R","t":18.7,"v":16},{"s":"R","t":18.7,"v":19},{"s":"R","t":18.7,"v":22},{"s":"R","t":18.7,"v":25},{"s":"R","t":18.75,"v":12},{"s":"R","t":18.75,"v":15},{"s":"R","t":18.8,"v":9.5},{"s":"R","t":18.8,"v":12},{"s":"R","t":18.9,"v":7.5},{"s":"R","t":18.9,"v":10},{"s":"R","t":19,"v":5.5},{"s":"R","t":19,"v":8.5},{"s":"R","t":19.05,"v":4.8},{"s":"R","t":19.05,"v":7},{"s":"R","t":19.1,"v":6},{"s":"R","t":19.1,"v":9},{"s":"R","t":19.2,"v":8.5},{"s":"R","t":19.2,"v":11},{"s":"R","t":19.3,"v":9.7},{"s":"R","t":19.3,"v":11.3},{"s":"R","t":19.4,"v":11.3},{"s":"R","t":19.4,"v":9.7},{"s":"R","t":19.5,"v":11.3},{"s":"R","t":19.5,"v":9.7},{"s":"R","t":19.6,"v":11.2},{"s":"R","t":19.6,"v":9.8},{"s":"R","t":19.7,"v":11.3},{"s":"R","t":19.7,"v":9.7},{"s":"R","t":19.8,"v":11.3},{"s":"R","t":19.8,"v":9.7},{"s":"R","t":19.9,"v":11.2},{"s":"R","t":19.9,"v":9.8},{"s":"R","t":20,"v":11.3},{"s":"R","t":20,"v":9.7},{"s":"R","t":20.1,"v":11.3},{"s":"R","t":20.1,"v":9.7},{"s":"R","t":20.2,"v":11.2},{"s":"R","t":20.2,"v":9.8},{"s":"R","t":20.3,"v":11.3},{"s":"R","t":20.3,"v":9.7},{"s":"R","t":20.4,"v":11.3},{"s":"R","t":20.4,"v":9.7},{"s":"R","t":20.5,"v":11.2},{"s":"R","t":20.5,"v":9.8},{"s":"R","t":20.6,"v":11.3},{"s":"R","t":20.6,"v":9.7},{"s":"R","t":20.7,"v":11.2},{"s":"R","t":20.7,"v":10},
{"s":"Theta","t":0,"v":68},{"s":"Theta","t":0,"v":61.5},{"s":"Theta","t":0,"v":58.5},{"s":"Theta","t":0,"v":55.5},{"s":"Theta","t":0,"v":52.5},{"s":"Theta","t":0,"v":49.5},{"s":"Theta","t":0.05,"v":60},{"s":"Theta","t":0.05,"v":57},{"s":"Theta","t":0.05,"v":54},{"s":"Theta","t":0.05,"v":51},{"s":"Theta","t":0.05,"v":48},{"s":"Theta","t":0.1,"v":61},{"s":"Theta","t":0.1,"v":58},{"s":"Theta","t":0.1,"v":55},{"s":"Theta","t":0.1,"v":52},{"s":"Theta","t":0.1,"v":49},{"s":"Theta","t":0.1,"v":46},{"s":"Theta","t":0.15,"v":60},{"s":"Theta","t":0.15,"v":57},{"s":"Theta","t":0.15,"v":54},{"s":"Theta","t":0.15,"v":51},{"s":"Theta","t":0.15,"v":48},{"s":"Theta","t":0.2,"v":60.5},{"s":"Theta","t":0.2,"v":57.5},{"s":"Theta","t":0.2,"v":54.5},{"s":"Theta","t":0.2,"v":51.5},{"s":"Theta","t":0.2,"v":49},{"s":"Theta","t":0.25,"v":59},{"s":"Theta","t":0.25,"v":56},{"s":"Theta","t":0.25,"v":53},{"s":"Theta","t":0.25,"v":51},{"s":"Theta","t":0.3,"v":58},{"s":"Theta","t":0.3,"v":55.5},{"s":"Theta","t":0.3,"v":53},
{"s":"Theta","t":0.4,"v":53},{"s":"Theta","t":0.4,"v":55},{"s":"Theta","t":0.4,"v":57.3},{"s":"Theta","t":0.5,"v":52.5},{"s":"Theta","t":0.5,"v":54.5},{"s":"Theta","t":0.5,"v":56.5},{"s":"Theta","t":0.6,"v":53.5},{"s":"Theta","t":0.6,"v":55.5},{"s":"Theta","t":0.6,"v":57.5},{"s":"Theta","t":0.7,"v":53},{"s":"Theta","t":0.7,"v":55},{"s":"Theta","t":0.7,"v":57},{"s":"Theta","t":0.8,"v":53.8},{"s":"Theta","t":0.8,"v":55.8},{"s":"Theta","t":0.8,"v":57.6},{"s":"Theta","t":0.9,"v":53.4},{"s":"Theta","t":0.9,"v":55.4},{"s":"Theta","t":0.9,"v":57.2},{"s":"Theta","t":1,"v":54.2},{"s":"Theta","t":1,"v":56},{"s":"Theta","t":1,"v":57.7},{"s":"Theta","t":1.1,"v":54},{"s":"Theta","t":1.1,"v":55.8},{"s":"Theta","t":1.1,"v":57.5},{"s":"Theta","t":1.2,"v":54.3},{"s":"Theta","t":1.2,"v":56.1},{"s":"Theta","t":1.2,"v":57.9},{"s":"Theta","t":1.3,"v":54.1},{"s":"Theta","t":1.3,"v":56},{"s":"Theta","t":1.3,"v":57.7},{"s":"Theta","t":1.4,"v":54.5},{"s":"Theta","t":1.4,"v":56.3},{"s":"Theta","t":1.4,"v":58},{"s":"Theta","t":1.5,"v":54.4},{"s":"Theta","t":1.5,"v":56.2},{"s":"Theta","t":1.5,"v":57.9},{"s":"Theta","t":1.6,"v":54.8},{"s":"Theta","t":1.6,"v":56.6},{"s":"Theta","t":1.6,"v":58.3},{"s":"Theta","t":1.7,"v":54.6},{"s":"Theta","t":1.7,"v":56.4},{"s":"Theta","t":1.7,"v":58.1},{"s":"Theta","t":1.8,"v":55},{"s":"Theta","t":1.8,"v":56.8},{"s":"Theta","t":1.8,"v":58.5},{"s":"Theta","t":1.9,"v":54.9},{"s":"Theta","t":1.9,"v":56.7},{"s":"Theta","t":1.9,"v":58.4},{"s":"Theta","t":2,"v":55.3},{"s":"Theta","t":2,"v":57.1},{"s":"Theta","t":2,"v":58.8},{"s":"Theta","t":2.1,"v":55.2},{"s":"Theta","t":2.1,"v":57},{"s":"Theta","t":2.1,"v":58.7},{"s":"Theta","t":2.2,"v":55.6},{"s":"Theta","t":2.2,"v":57.4},{"s":"Theta","t":2.2,"v":59.1},{"s":"Theta","t":2.3,"v":55.5},{"s":"Theta","t":2.3,"v":57.3},{"s":"Theta","t":2.3,"v":59},{"s":"Theta","t":2.4,"v":55.9},{"s":"Theta","t":2.4,"v":57.7},{"s":"Theta","t":2.4,"v":59.4},{"s":"Theta","t":2.5,"v":55.9},{"s":"Theta","t":2.5,"v":57.7},{"s":"Theta","t":2.5,"v":59.5},{"s":"Theta","t":2.6,"v":56.3},{"s":"Theta","t":2.6,"v":58.1},{"s":"Theta","t":2.6,"v":59.9},{"s":"Theta","t":2.7,"v":56.3},{"s":"Theta","t":2.7,"v":58.1},{"s":"Theta","t":2.7,"v":59.9},{"s":"Theta","t":2.8,"v":56.7},{"s":"Theta","t":2.8,"v":58.5},{"s":"Theta","t":2.8,"v":60.3},{"s":"Theta","t":2.9,"v":56.7},{"s":"Theta","t":2.9,"v":58.5},{"s":"Theta","t":2.9,"v":60.3},{"s":"Theta","t":3,"v":57},{"s":"Theta","t":3,"v":58.8},{"s":"Theta","t":3,"v":60.6},{"s":"Theta","t":3.1,"v":57},{"s":"Theta","t":3.1,"v":58.8},{"s":"Theta","t":3.1,"v":60.6},{"s":"Theta","t":3.2,"v":57.3},{"s":"Theta","t":3.2,"v":59.1},{"s":"Theta","t":3.2,"v":60.9},{"s":"Theta","t":3.3,"v":57.3},{"s":"Theta","t":3.3,"v":59.1},{"s":"Theta","t":3.3,"v":60.9},{"s":"Theta","t":3.4,"v":57.6},{"s":"Theta","t":3.4,"v":59.4},{"s":"Theta","t":3.4,"v":61.2},{"s":"Theta","t":3.5,"v":57.6},{"s":"Theta","t":3.5,"v":59.4},{"s":"Theta","t":3.5,"v":61.2},{"s":"Theta","t":3.6,"v":58},{"s":"Theta","t":3.6,"v":59.8},{"s":"Theta","t":3.6,"v":61.6},{"s":"Theta","t":3.7,"v":58},{"s":"Theta","t":3.7,"v":59.8},{"s":"Theta","t":3.7,"v":61.6},{"s":"Theta","t":3.8,"v":58.3},{"s":"Theta","t":3.8,"v":60.1},{"s":"Theta","t":3.8,"v":61.9},
{"s":"Theta","t":3.9,"v":60},{"s":"Theta","t":3.9,"v":62.5},{"s":"Theta","t":3.9,"v":65},{"s":"Theta","t":4,"v":62},{"s":"Theta","t":4,"v":65},{"s":"Theta","t":4,"v":68},{"s":"Theta","t":4.1,"v":66},{"s":"Theta","t":4.1,"v":69},{"s":"Theta","t":4.1,"v":72},{"s":"Theta","t":4.1,"v":75},{"s":"Theta","t":4.2,"v":72},{"s":"Theta","t":4.2,"v":75},{"s":"Theta","t":4.2,"v":78},{"s":"Theta","t":4.2,"v":81},{"s":"Theta","t":4.3,"v":78},{"s":"Theta","t":4.3,"v":81},{"s":"Theta","t":4.3,"v":84},{"s":"Theta","t":4.3,"v":87},{"s":"Theta","t":4.4,"v":81},{"s":"Theta","t":4.4,"v":84},{"s":"Theta","t":4.4,"v":87},{"s":"Theta","t":4.4,"v":90},{"s":"Theta","t":4.5,"v":80},{"s":"Theta","t":4.5,"v":83},{"s":"Theta","t":4.5,"v":86},{"s":"Theta","t":4.5,"v":89},{"s":"Theta","t":4.5,"v":92},{"s":"Theta","t":4.6,"v":79},{"s":"Theta","t":4.6,"v":82},{"s":"Theta","t":4.6,"v":85},{"s":"Theta","t":4.6,"v":88},{"s":"Theta","t":4.7,"v":80},{"s":"Theta","t":4.7,"v":83},{"s":"Theta","t":4.7,"v":86},{"s":"Theta","t":4.7,"v":89},{"s":"Theta","t":4.8,"v":78},{"s":"Theta","t":4.8,"v":81},{"s":"Theta","t":4.8,"v":84},{"s":"Theta","t":4.8,"v":87},{"s":"Theta","t":4.9,"v":79},{"s":"Theta","t":4.9,"v":82},{"s":"Theta","t":4.9,"v":85},{"s":"Theta","t":4.9,"v":88},{"s":"Theta","t":5,"v":77.5},{"s":"Theta","t":5,"v":80.5},{"s":"Theta","t":5,"v":83.5},{"s":"Theta","t":5,"v":86.5},{"s":"Theta","t":5.1,"v":78},{"s":"Theta","t":5.1,"v":81.5},{"s":"Theta","t":5.1,"v":85},{"s":"Theta","t":5.1,"v":88.5},{"s":"Theta","t":5.1,"v":92},{"s":"Theta","t":5.2,"v":84},{"s":"Theta","t":5.2,"v":88},{"s":"Theta","t":5.2,"v":92},{"s":"Theta","t":5.2,"v":96},{"s":"Theta","t":5.2,"v":100},{"s":"Theta","t":5.2,"v":104},{"s":"Theta","t":5.3,"v":94},{"s":"Theta","t":5.3,"v":98},{"s":"Theta","t":5.3,"v":102},{"s":"Theta","t":5.3,"v":106},{"s":"Theta","t":5.3,"v":110},{"s":"Theta","t":5.3,"v":114},{"s":"Theta","t":5.35,"v":100},{"s":"Theta","t":5.35,"v":104},{"s":"Theta","t":5.35,"v":108},{"s":"Theta","t":5.35,"v":112},{"s":"Theta","t":5.35,"v":116},{"s":"Theta","t":5.35,"v":120},{"s":"Theta","t":5.4,"v":106},{"s":"Theta","t":5.4,"v":110},{"s":"Theta","t":5.4,"v":114},{"s":"Theta","t":5.4,"v":118},{"s":"Theta","t":5.4,"v":122},{"s":"Theta","t":5.4,"v":126},{"s":"Theta","t":5.4,"v":128.5},{"s":"Theta","t":5.45,"v":108},{"s":"Theta","t":5.45,"v":112},{"s":"Theta","t":5.45,"v":116},{"s":"Theta","t":5.45,"v":120},{"s":"Theta","t":5.45,"v":124},{"s":"Theta","t":5.45,"v":128.5},{"s":"Theta","t":5.5,"v":110},{"s":"Theta","t":5.5,"v":114},{"s":"Theta","t":5.5,"v":118},{"s":"Theta","t":5.5,"v":122},{"s":"Theta","t":5.5,"v":126},{"s":"Theta","t":5.5,"v":128.5},{"s":"Theta","t":5.55,"v":108},{"s":"Theta","t":5.55,"v":112},{"s":"Theta","t":5.55,"v":116},{"s":"Theta","t":5.55,"v":120},{"s":"Theta","t":5.55,"v":124},{"s":"Theta","t":5.55,"v":127},{"s":"Theta","t":5.6,"v":104},{"s":"Theta","t":5.6,"v":108},{"s":"Theta","t":5.6,"v":112},{"s":"Theta","t":5.6,"v":116},{"s":"Theta","t":5.6,"v":120},{"s":"Theta","t":5.6,"v":124},{"s":"Theta","t":5.65,"v":100},{"s":"Theta","t":5.65,"v":104},{"s":"Theta","t":5.65,"v":108},{"s":"Theta","t":5.65,"v":112},{"s":"Theta","t":5.65,"v":116},{"s":"Theta","t":5.65,"v":120},{"s":"Theta","t":5.7,"v":94},{"s":"Theta","t":5.7,"v":98},{"s":"Theta","t":5.7,"v":102},{"s":"Theta","t":5.7,"v":106},{"s":"Theta","t":5.7,"v":110},{"s":"Theta","t":5.75,"v":90},{"s":"Theta","t":5.75,"v":94},{"s":"Theta","t":5.75,"v":98},{"s":"Theta","t":5.75,"v":102},{"s":"Theta","t":5.75,"v":106},{"s":"Theta","t":5.8,"v":84},{"s":"Theta","t":5.8,"v":88},{"s":"Theta","t":5.8,"v":92},{"s":"Theta","t":5.8,"v":96},{"s":"Theta","t":5.8,"v":100},{"s":"Theta","t":5.85,"v":78},{"s":"Theta","t":5.85,"v":82},{"s":"Theta","t":5.85,"v":86},{"s":"Theta","t":5.85,"v":90},{"s":"Theta","t":5.85,"v":94},{"s":"Theta","t":5.85,"v":98},{"s":"Theta","t":5.9,"v":70},{"s":"Theta","t":5.9,"v":74},{"s":"Theta","t":5.9,"v":78},{"s":"Theta","t":5.9,"v":82},{"s":"Theta","t":5.9,"v":86},{"s":"Theta","t":5.95,"v":66},{"s":"Theta","t":5.95,"v":70},{"s":"Theta","t":5.95,"v":74},{"s":"Theta","t":5.95,"v":78},{"s":"Theta","t":5.95,"v":82},{"s":"Theta","t":6,"v":64},{"s":"Theta","t":6,"v":67},{"s":"Theta","t":6,"v":70},{"s":"Theta","t":6,"v":73},{"s":"Theta","t":6,"v":76},{"s":"Theta","t":6,"v":79},{"s":"Theta","t":6.1,"v":67},{"s":"Theta","t":6.1,"v":70},{"s":"Theta","t":6.1,"v":73},{"s":"Theta","t":6.1,"v":76},{"s":"Theta","t":6.1,"v":79},{"s":"Theta","t":6.2,"v":71},{"s":"Theta","t":6.2,"v":74},{"s":"Theta","t":6.2,"v":77},{"s":"Theta","t":6.2,"v":80},{"s":"Theta","t":6.3,"v":75},{"s":"Theta","t":6.3,"v":78},{"s":"Theta","t":6.3,"v":81},{"s":"Theta","t":6.4,"v":76},{"s":"Theta","t":6.4,"v":79},{"s":"Theta","t":6.4,"v":81.5},{"s":"Theta","t":6.5,"v":77},{"s":"Theta","t":6.5,"v":79.5},{"s":"Theta","t":6.5,"v":82},{"s":"Theta","t":6.6,"v":76},{"s":"Theta","t":6.6,"v":79},{"s":"Theta","t":6.6,"v":81.5},{"s":"Theta","t":6.7,"v":77},{"s":"Theta","t":6.7,"v":79.5},{"s":"Theta","t":6.7,"v":82},{"s":"Theta","t":6.8,"v":76.5},{"s":"Theta","t":6.8,"v":79},{"s":"Theta","t":6.8,"v":81.5},{"s":"Theta","t":6.9,"v":77},{"s":"Theta","t":6.9,"v":79.5},{"s":"Theta","t":6.9,"v":82},{"s":"Theta","t":7,"v":76},{"s":"Theta","t":7,"v":78.5},{"s":"Theta","t":7,"v":80.5},{"s":"Theta","t":7.05,"v":74},{"s":"Theta","t":7.1,"v":75.5},{"s":"Theta","t":7.1,"v":78},{"s":"Theta","t":7.1,"v":80.5},{"s":"Theta","t":7.2,"v":77},{"s":"Theta","t":7.2,"v":80.5},
{"s":"Theta","t":13.85,"v":96.3},{"s":"Theta","t":13.85,"v":88.3},{"s":"Theta","t":13.85,"v":82},{"s":"Theta","t":13.85,"v":79},{"s":"Theta","t":13.85,"v":76},{"s":"Theta","t":13.9,"v":80.5},{"s":"Theta","t":13.9,"v":83},{"s":"Theta","t":14,"v":82.3},{"s":"Theta","t":14,"v":80.3},{"s":"Theta","t":14.1,"v":82.3},{"s":"Theta","t":14.1,"v":80.3},{"s":"Theta","t":14.2,"v":82.3},{"s":"Theta","t":14.2,"v":80.3},{"s":"Theta","t":14.3,"v":82.3},{"s":"Theta","t":14.3,"v":80.3},{"s":"Theta","t":14.4,"v":82.3},{"s":"Theta","t":14.4,"v":80.3},{"s":"Theta","t":14.5,"v":82.3},{"s":"Theta","t":14.5,"v":80.3},{"s":"Theta","t":14.6,"v":82.3},{"s":"Theta","t":14.6,"v":80.3},{"s":"Theta","t":14.7,"v":82.3},{"s":"Theta","t":14.7,"v":80.3},{"s":"Theta","t":14.8,"v":82.3},{"s":"Theta","t":14.8,"v":80.3},{"s":"Theta","t":14.9,"v":82.3},{"s":"Theta","t":14.9,"v":80.3},{"s":"Theta","t":15,"v":82.3},{"s":"Theta","t":15,"v":80.3},{"s":"Theta","t":15.1,"v":82.3},{"s":"Theta","t":15.1,"v":80.3},{"s":"Theta","t":15.2,"v":82.3},{"s":"Theta","t":15.2,"v":80.3},{"s":"Theta","t":15.3,"v":82.3},{"s":"Theta","t":15.3,"v":80.3},{"s":"Theta","t":15.4,"v":82.3},{"s":"Theta","t":15.4,"v":80.3},{"s":"Theta","t":15.5,"v":82.3},{"s":"Theta","t":15.5,"v":80.3},{"s":"Theta","t":15.6,"v":82.3},{"s":"Theta","t":15.6,"v":80.3},{"s":"Theta","t":15.7,"v":82.3},{"s":"Theta","t":15.7,"v":80.3},{"s":"Theta","t":15.8,"v":82.3},{"s":"Theta","t":15.8,"v":80.3},{"s":"Theta","t":15.9,"v":82.3},{"s":"Theta","t":15.9,"v":80.3},{"s":"Theta","t":16,"v":82.3},{"s":"Theta","t":16,"v":80.3},{"s":"Theta","t":16.1,"v":82.3},{"s":"Theta","t":16.1,"v":80.3},{"s":"Theta","t":16.2,"v":82.3},{"s":"Theta","t":16.2,"v":80.3},{"s":"Theta","t":16.3,"v":82.3},{"s":"Theta","t":16.3,"v":80.3},{"s":"Theta","t":16.4,"v":82.3},{"s":"Theta","t":16.4,"v":80.3},{"s":"Theta","t":16.5,"v":82.3},{"s":"Theta","t":16.5,"v":80.3},{"s":"Theta","t":16.6,"v":82.3},{"s":"Theta","t":16.6,"v":80.3},{"s":"Theta","t":16.7,"v":82.3},{"s":"Theta","t":16.7,"v":80.3},{"s":"Theta","t":16.8,"v":82.3},{"s":"Theta","t":16.8,"v":80.3},{"s":"Theta","t":16.9,"v":82.3},{"s":"Theta","t":16.9,"v":80.3},{"s":"Theta","t":17,"v":82.3},{"s":"Theta","t":17,"v":80.3},{"s":"Theta","t":17.1,"v":82.3},{"s":"Theta","t":17.1,"v":80.3},
{"s":"Theta","t":17.2,"v":81.5},{"s":"Theta","t":17.2,"v":78},{"s":"Theta","t":17.3,"v":78},{"s":"Theta","t":17.3,"v":75},{"s":"Theta","t":17.3,"v":72},{"s":"Theta","t":17.4,"v":72},{"s":"Theta","t":17.4,"v":69},{"s":"Theta","t":17.4,"v":66.5},{"s":"Theta","t":17.5,"v":67},{"s":"Theta","t":17.5,"v":70},{"s":"Theta","t":17.5,"v":73},{"s":"Theta","t":17.5,"v":76},{"s":"Theta","t":17.6,"v":78},{"s":"Theta","t":17.6,"v":82},{"s":"Theta","t":17.6,"v":86},{"s":"Theta","t":17.6,"v":90},{"s":"Theta","t":17.6,"v":94},{"s":"Theta","t":17.7,"v":88},{"s":"Theta","t":17.7,"v":92},{"s":"Theta","t":17.7,"v":96},{"s":"Theta","t":17.7,"v":100},{"s":"Theta","t":17.7,"v":104.5},{"s":"Theta","t":17.8,"v":94},{"s":"Theta","t":17.8,"v":98},{"s":"Theta","t":17.8,"v":102},{"s":"Theta","t":17.8,"v":104.5},{"s":"Theta","t":17.9,"v":94},{"s":"Theta","t":17.9,"v":98},{"s":"Theta","t":17.9,"v":102},{"s":"Theta","t":17.9,"v":104.5},{"s":"Theta","t":18,"v":92},{"s":"Theta","t":18,"v":96},{"s":"Theta","t":18,"v":100},{"s":"Theta","t":18,"v":104},{"s":"Theta","t":18.1,"v":90},{"s":"Theta","t":18.1,"v":94},{"s":"Theta","t":18.1,"v":98},{"s":"Theta","t":18.1,"v":102},{"s":"Theta","t":18.2,"v":86},{"s":"Theta","t":18.2,"v":90},{"s":"Theta","t":18.2,"v":94},{"s":"Theta","t":18.2,"v":98},{"s":"Theta","t":18.3,"v":85},{"s":"Theta","t":18.3,"v":89},{"s":"Theta","t":18.3,"v":93},{"s":"Theta","t":18.3,"v":97},{"s":"Theta","t":18.4,"v":88},{"s":"Theta","t":18.4,"v":92},{"s":"Theta","t":18.4,"v":96},{"s":"Theta","t":18.4,"v":100},{"s":"Theta","t":18.4,"v":103},{"s":"Theta","t":18.45,"v":96},{"s":"Theta","t":18.45,"v":100},{"s":"Theta","t":18.45,"v":104},{"s":"Theta","t":18.45,"v":108},{"s":"Theta","t":18.45,"v":112},{"s":"Theta","t":18.45,"v":116},{"s":"Theta","t":18.5,"v":100},{"s":"Theta","t":18.5,"v":104},{"s":"Theta","t":18.5,"v":108},{"s":"Theta","t":18.5,"v":112},{"s":"Theta","t":18.5,"v":116},{"s":"Theta","t":18.5,"v":120},{"s":"Theta","t":18.5,"v":123},{"s":"Theta","t":18.55,"v":108},{"s":"Theta","t":18.55,"v":112},{"s":"Theta","t":18.55,"v":116},{"s":"Theta","t":18.55,"v":120},{"s":"Theta","t":18.55,"v":124},{"s":"Theta","t":18.55,"v":128.5},{"s":"Theta","t":18.6,"v":110},{"s":"Theta","t":18.6,"v":114},{"s":"Theta","t":18.6,"v":118},{"s":"Theta","t":18.6,"v":122},{"s":"Theta","t":18.6,"v":126},{"s":"Theta","t":18.6,"v":128.5},{"s":"Theta","t":18.65,"v":104},{"s":"Theta","t":18.65,"v":108},{"s":"Theta","t":18.65,"v":112},{"s":"Theta","t":18.65,"v":116},{"s":"Theta","t":18.65,"v":120},{"s":"Theta","t":18.65,"v":124},{"s":"Theta","t":18.65,"v":128},{"s":"Theta","t":18.7,"v":98},{"s":"Theta","t":18.7,"v":102},{"s":"Theta","t":18.7,"v":106},{"s":"Theta","t":18.7,"v":110},{"s":"Theta","t":18.7,"v":114},{"s":"Theta","t":18.75,"v":92},{"s":"Theta","t":18.75,"v":96},{"s":"Theta","t":18.75,"v":100},{"s":"Theta","t":18.75,"v":104},{"s":"Theta","t":18.75,"v":108},{"s":"Theta","t":18.8,"v":88},{"s":"Theta","t":18.8,"v":92},{"s":"Theta","t":18.8,"v":96},{"s":"Theta","t":18.8,"v":100},{"s":"Theta","t":18.8,"v":104},{"s":"Theta","t":18.85,"v":86},{"s":"Theta","t":18.85,"v":90},{"s":"Theta","t":18.85,"v":94},{"s":"Theta","t":18.85,"v":98},{"s":"Theta","t":18.85,"v":102},{"s":"Theta","t":18.9,"v":86},{"s":"Theta","t":18.9,"v":90},{"s":"Theta","t":18.9,"v":94},{"s":"Theta","t":18.9,"v":98},{"s":"Theta","t":18.9,"v":102},{"s":"Theta","t":18.95,"v":84},{"s":"Theta","t":18.95,"v":88},{"s":"Theta","t":18.95,"v":92},{"s":"Theta","t":18.95,"v":96},{"s":"Theta","t":18.95,"v":100},{"s":"Theta","t":19,"v":84},{"s":"Theta","t":19,"v":88},{"s":"Theta","t":19,"v":92},{"s":"Theta","t":19,"v":96},{"s":"Theta","t":19,"v":100},{"s":"Theta","t":19.05,"v":82},{"s":"Theta","t":19.05,"v":86},{"s":"Theta","t":19.05,"v":90},{"s":"Theta","t":19.05,"v":94},{"s":"Theta","t":19.05,"v":98},{"s":"Theta","t":19.1,"v":82},{"s":"Theta","t":19.1,"v":86},{"s":"Theta","t":19.1,"v":90},{"s":"Theta","t":19.1,"v":94},{"s":"Theta","t":19.1,"v":98},{"s":"Theta","t":19.15,"v":80},{"s":"Theta","t":19.15,"v":84},{"s":"Theta","t":19.15,"v":88},{"s":"Theta","t":19.15,"v":92},{"s":"Theta","t":19.15,"v":96},{"s":"Theta","t":19.2,"v":80},{"s":"Theta","t":19.2,"v":84},{"s":"Theta","t":19.2,"v":88},{"s":"Theta","t":19.2,"v":92},{"s":"Theta","t":19.2,"v":96},{"s":"Theta","t":19.25,"v":78},{"s":"Theta","t":19.25,"v":82},{"s":"Theta","t":19.25,"v":86},{"s":"Theta","t":19.25,"v":90},{"s":"Theta","t":19.3,"v":76},{"s":"Theta","t":19.3,"v":79},{"s":"Theta","t":19.3,"v":82},{"s":"Theta","t":19.3,"v":85},{"s":"Theta","t":19.3,"v":88},{"s":"Theta","t":19.4,"v":73},{"s":"Theta","t":19.4,"v":76},{"s":"Theta","t":19.4,"v":79},{"s":"Theta","t":19.4,"v":82},{"s":"Theta","t":19.5,"v":71},{"s":"Theta","t":19.5,"v":74},{"s":"Theta","t":19.5,"v":76.5},{"s":"Theta","t":19.6,"v":69},{"s":"Theta","t":19.6,"v":72},{"s":"Theta","t":19.6,"v":75},{"s":"Theta","t":19.6,"v":77},{"s":"Theta","t":19.7,"v":68},{"s":"Theta","t":19.7,"v":71},{"s":"Theta","t":19.7,"v":74},{"s":"Theta","t":19.7,"v":76},{"s":"Theta","t":19.8,"v":67.5},{"s":"Theta","t":19.8,"v":70.5},{"s":"Theta","t":19.8,"v":73.5},{"s":"Theta","t":19.8,"v":76},{"s":"Theta","t":19.9,"v":70},{"s":"Theta","t":19.9,"v":72.5},{"s":"Theta","t":19.9,"v":75},{"s":"Theta","t":20,"v":71},{"s":"Theta","t":20,"v":73.5},{"s":"Theta","t":20,"v":76},{"s":"Theta","t":20.1,"v":69},{"s":"Theta","t":20.1,"v":72},{"s":"Theta","t":20.1,"v":75},{"s":"Theta","t":20.1,"v":77},{"s":"Theta","t":20.2,"v":70.5},{"s":"Theta","t":20.2,"v":73},{"s":"Theta","t":20.2,"v":75.5},{"s":"Theta","t":20.3,"v":72},{"s":"Theta","t":20.3,"v":74.5},{"s":"Theta","t":20.3,"v":76.5},{"s":"Theta","t":20.4,"v":70},{"s":"Theta","t":20.4,"v":72.5},{"s":"Theta","t":20.4,"v":74.5},{"s":"Theta","t":20.5,"v":71.5},{"s":"Theta","t":20.5,"v":74},{"s":"Theta","t":20.5,"v":76},{"s":"Theta","t":20.6,"v":68},{"s":"Theta","t":20.6,"v":70.5},{"s":"Theta","t":20.6,"v":73},{"s":"Theta","t":20.7,"v":63.7},{"s":"Theta","t":20.7,"v":66},{"s":"Theta","t":20.7,"v":69},{"s":"Theta","t":20.7,"v":72},
{"s":"Phi","t":0,"v":91},{"s":"Phi","t":0,"v":88},{"s":"Phi","t":0,"v":85},{"s":"Phi","t":0,"v":82},{"s":"Phi","t":0.05,"v":90},{"s":"Phi","t":0.05,"v":87},{"s":"Phi","t":0.05,"v":84},{"s":"Phi","t":0.05,"v":81},{"s":"Phi","t":0.1,"v":89},{"s":"Phi","t":0.1,"v":86},{"s":"Phi","t":0.1,"v":83},{"s":"Phi","t":0.1,"v":80},{"s":"Phi","t":0.15,"v":89.5},{"s":"Phi","t":0.15,"v":86.5},{"s":"Phi","t":0.15,"v":83.5},{"s":"Phi","t":0.15,"v":80.5},{"s":"Phi","t":0.2,"v":90},{"s":"Phi","t":0.2,"v":87},{"s":"Phi","t":0.2,"v":84},{"s":"Phi","t":0.2,"v":81.5},{"s":"Phi","t":0.25,"v":88},{"s":"Phi","t":0.25,"v":85},{"s":"Phi","t":0.25,"v":82.5},{"s":"Phi","t":0.3,"v":87},{"s":"Phi","t":0.3,"v":85},{"s":"Phi","t":0.3,"v":83},
{"s":"Phi","t":0.4,"v":83.5},{"s":"Phi","t":0.4,"v":85.3},{"s":"Phi","t":0.4,"v":87},{"s":"Phi","t":0.5,"v":83.3},{"s":"Phi","t":0.5,"v":85.2},{"s":"Phi","t":0.5,"v":87.2},{"s":"Phi","t":0.6,"v":83.2},{"s":"Phi","t":0.6,"v":85},{"s":"Phi","t":0.6,"v":86.9},{"s":"Phi","t":0.7,"v":83.2},{"s":"Phi","t":0.7,"v":85},{"s":"Phi","t":0.7,"v":87},{"s":"Phi","t":0.8,"v":83.3},{"s":"Phi","t":0.8,"v":85.2},{"s":"Phi","t":0.8,"v":87},{"s":"Phi","t":0.9,"v":83.4},{"s":"Phi","t":0.9,"v":85.2},{"s":"Phi","t":0.9,"v":87.1},{"s":"Phi","t":1,"v":83},{"s":"Phi","t":1,"v":85},{"s":"Phi","t":1,"v":86.9},{"s":"Phi","t":1.1,"v":83},{"s":"Phi","t":1.1,"v":84.8},{"s":"Phi","t":1.1,"v":86.8},{"s":"Phi","t":1.2,"v":82.8},{"s":"Phi","t":1.2,"v":84.7},{"s":"Phi","t":1.2,"v":86.7},{"s":"Phi","t":1.3,"v":82.5},{"s":"Phi","t":1.3,"v":84.6},{"s":"Phi","t":1.3,"v":86.6},{"s":"Phi","t":1.4,"v":82.6},{"s":"Phi","t":1.4,"v":84.5},{"s":"Phi","t":1.4,"v":86.5},{"s":"Phi","t":1.5,"v":82.8},{"s":"Phi","t":1.5,"v":84.6},{"s":"Phi","t":1.5,"v":86.5},{"s":"Phi","t":1.6,"v":83},{"s":"Phi","t":1.6,"v":84.9},{"s":"Phi","t":1.6,"v":86.7},{"s":"Phi","t":1.7,"v":83.2},{"s":"Phi","t":1.7,"v":85},{"s":"Phi","t":1.7,"v":86.8},{"s":"Phi","t":1.8,"v":83.4},{"s":"Phi","t":1.8,"v":85.2},{"s":"Phi","t":1.8,"v":87},{"s":"Phi","t":1.9,"v":83.5},{"s":"Phi","t":1.9,"v":85.3},{"s":"Phi","t":1.9,"v":87.1},{"s":"Phi","t":2,"v":83.7},{"s":"Phi","t":2,"v":85.5},{"s":"Phi","t":2,"v":87.2},{"s":"Phi","t":2.1,"v":83.8},{"s":"Phi","t":2.1,"v":85.6},{"s":"Phi","t":2.1,"v":87.3},{"s":"Phi","t":2.2,"v":84},{"s":"Phi","t":2.2,"v":85.8},{"s":"Phi","t":2.2,"v":87.5},{"s":"Phi","t":2.3,"v":84.1},{"s":"Phi","t":2.3,"v":85.9},{"s":"Phi","t":2.3,"v":87.6},{"s":"Phi","t":2.4,"v":84.3},{"s":"Phi","t":2.4,"v":86.1},{"s":"Phi","t":2.4,"v":87.8},{"s":"Phi","t":2.5,"v":84.4},{"s":"Phi","t":2.5,"v":86.2},{"s":"Phi","t":2.5,"v":88},{"s":"Phi","t":2.6,"v":84.6},{"s":"Phi","t":2.6,"v":86.4},{"s":"Phi","t":2.6,"v":88.2},{"s":"Phi","t":2.7,"v":84.8},{"s":"Phi","t":2.7,"v":86.6},{"s":"Phi","t":2.7,"v":88.4},{"s":"Phi","t":2.8,"v":85},{"s":"Phi","t":2.8,"v":86.8},{"s":"Phi","t":2.8,"v":88.5},{"s":"Phi","t":2.9,"v":85.2},{"s":"Phi","t":2.9,"v":87},{"s":"Phi","t":2.9,"v":88.7},{"s":"Phi","t":3,"v":85.4},{"s":"Phi","t":3,"v":87.1},{"s":"Phi","t":3,"v":88.8},{"s":"Phi","t":3.1,"v":85.5},{"s":"Phi","t":3.1,"v":87.2},{"s":"Phi","t":3.1,"v":89},{"s":"Phi","t":3.2,"v":85.6},{"s":"Phi","t":3.2,"v":87.4},{"s":"Phi","t":3.2,"v":89.2},{"s":"Phi","t":3.3,"v":85.5},{"s":"Phi","t":3.3,"v":87.2},{"s":"Phi","t":3.3,"v":89},{"s":"Phi","t":3.4,"v":85},{"s":"Phi","t":3.4,"v":86.8},{"s":"Phi","t":3.4,"v":88.6},{"s":"Phi","t":3.5,"v":84.6},{"s":"Phi","t":3.5,"v":86.4},{"s":"Phi","t":3.5,"v":88.2},{"s":"Phi","t":3.6,"v":84.3},{"s":"Phi","t":3.6,"v":86.1},{"s":"Phi","t":3.6,"v":88},{"s":"Phi","t":3.7,"v":84},{"s":"Phi","t":3.7,"v":85.8},{"s":"Phi","t":3.7,"v":87.6},{"s":"Phi","t":3.8,"v":83},{"s":"Phi","t":3.8,"v":85},{"s":"Phi","t":3.8,"v":87},{"s":"Phi","t":3.85,"v":81},{"s":"Phi","t":3.85,"v":84},
{"s":"Phi","t":3.9,"v":76},{"s":"Phi","t":3.9,"v":79},{"s":"Phi","t":3.9,"v":82},{"s":"Phi","t":3.95,"v":72},{"s":"Phi","t":3.95,"v":75},{"s":"Phi","t":3.95,"v":78},{"s":"Phi","t":4,"v":69.5},{"s":"Phi","t":4,"v":72.5},{"s":"Phi","t":4,"v":75.5},{"s":"Phi","t":4.05,"v":69.5},{"s":"Phi","t":4.05,"v":73},{"s":"Phi","t":4.05,"v":77},{"s":"Phi","t":4.05,"v":81},{"s":"Phi","t":4.1,"v":72},{"s":"Phi","t":4.1,"v":76},{"s":"Phi","t":4.1,"v":80},{"s":"Phi","t":4.1,"v":84},{"s":"Phi","t":4.1,"v":88},{"s":"Phi","t":4.15,"v":76},{"s":"Phi","t":4.15,"v":80},{"s":"Phi","t":4.15,"v":84},{"s":"Phi","t":4.15,"v":88},{"s":"Phi","t":4.15,"v":92},{"s":"Phi","t":4.15,"v":96},{"s":"Phi","t":4.2,"v":82},{"s":"Phi","t":4.2,"v":86},{"s":"Phi","t":4.2,"v":90},{"s":"Phi","t":4.2,"v":94},{"s":"Phi","t":4.2,"v":98},{"s":"Phi","t":4.2,"v":102},{"s":"Phi","t":4.25,"v":84},{"s":"Phi","t":4.25,"v":88},{"s":"Phi","t":4.25,"v":92},{"s":"Phi","t":4.25,"v":96},{"s":"Phi","t":4.25,"v":100},{"s":"Phi","t":4.25,"v":104},{"s":"Phi","t":4.25,"v":108},{"s":"Phi","t":4.25,"v":112},{"s":"Phi","t":4.25,"v":116},{"s":"Phi","t":4.3,"v":86},{"s":"Phi","t":4.3,"v":90},{"s":"Phi","t":4.3,"v":94},{"s":"Phi","t":4.3,"v":98},{"s":"Phi","t":4.3,"v":102},{"s":"Phi","t":4.3,"v":106},{"s":"Phi","t":4.3,"v":110},{"s":"Phi","t":4.3,"v":114},{"s":"Phi","t":4.3,"v":118},{"s":"Phi","t":4.3,"v":122},{"s":"Phi","t":4.3,"v":124.5},{"s":"Phi","t":4.35,"v":88},{"s":"Phi","t":4.35,"v":92},{"s":"Phi","t":4.35,"v":96},{"s":"Phi","t":4.35,"v":100},{"s":"Phi","t":4.35,"v":104},{"s":"Phi","t":4.35,"v":108},{"s":"Phi","t":4.35,"v":112},{"s":"Phi","t":4.35,"v":116},{"s":"Phi","t":4.35,"v":120},{"s":"Phi","t":4.35,"v":124.5},{"s":"Phi","t":4.4,"v":86},{"s":"Phi","t":4.4,"v":90},{"s":"Phi","t":4.4,"v":94},{"s":"Phi","t":4.4,"v":98},{"s":"Phi","t":4.4,"v":102},{"s":"Phi","t":4.4,"v":106},{"s":"Phi","t":4.4,"v":110},{"s":"Phi","t":4.4,"v":114},{"s":"Phi","t":4.4,"v":118},{"s":"Phi","t":4.4,"v":122},{"s":"Phi","t":4.4,"v":124.5},{"s":"Phi","t":4.45,"v":88},{"s":"Phi","t":4.45,"v":92},{"s":"Phi","t":4.45,"v":96},{"s":"Phi","t":4.45,"v":100},{"s":"Phi","t":4.45,"v":104},{"s":"Phi","t":4.45,"v":108},{"s":"Phi","t":4.45,"v":112},{"s":"Phi","t":4.45,"v":116},{"s":"Phi","t":4.45,"v":120},{"s":"Phi","t":4.5,"v":86},{"s":"Phi","t":4.5,"v":90},{"s":"Phi","t":4.5,"v":94},{"s":"Phi","t":4.5,"v":98},{"s":"Phi","t":4.5,"v":102},{"s":"Phi","t":4.5,"v":106},{"s":"Phi","t":4.5,"v":110},{"s":"Phi","t":4.5,"v":113},{"s":"Phi","t":4.55,"v":88},{"s":"Phi","t":4.55,"v":92},{"s":"Phi","t":4.55,"v":96},{"s":"Phi","t":4.55,"v":100},{"s":"Phi","t":4.55,"v":104},{"s":"Phi","t":4.6,"v":84},{"s":"Phi","t":4.6,"v":88},{"s":"Phi","t":4.6,"v":92},{"s":"Phi","t":4.6,"v":96},{"s":"Phi","t":4.6,"v":100},{"s":"Phi","t":4.65,"v":86},{"s":"Phi","t":4.65,"v":90},{"s":"Phi","t":4.65,"v":94},{"s":"Phi","t":4.65,"v":98},{"s":"Phi","t":4.7,"v":83},{"s":"Phi","t":4.7,"v":87},{"s":"Phi","t":4.7,"v":91},{"s":"Phi","t":4.7,"v":95},{"s":"Phi","t":4.7,"v":99},{"s":"Phi","t":4.75,"v":85},{"s":"Phi","t":4.75,"v":89},{"s":"Phi","t":4.75,"v":93},{"s":"Phi","t":4.75,"v":97},{"s":"Phi","t":4.75,"v":99.5},{"s":"Phi","t":4.8,"v":84},{"s":"Phi","t":4.8,"v":88},{"s":"Phi","t":4.8,"v":92},{"s":"Phi","t":4.8,"v":96},{"s":"Phi","t":4.85,"v":86},{"s":"Phi","t":4.85,"v":90},{"s":"Phi","t":4.85,"v":94},{"s":"Phi","t":4.85,"v":98},{"s":"Phi","t":4.9,"v":86},{"s":"Phi","t":4.9,"v":90},{"s":"Phi","t":4.9,"v":94},{"s":"Phi","t":4.9,"v":98},{"s":"Phi","t":4.9,"v":102},{"s":"Phi","t":4.95,"v":88},{"s":"Phi","t":4.95,"v":92},{"s":"Phi","t":4.95,"v":96},{"s":"Phi","t":4.95,"v":100},{"s":"Phi","t":4.95,"v":104},{"s":"Phi","t":4.95,"v":108},{"s":"Phi","t":4.95,"v":111},{"s":"Phi","t":5,"v":86},{"s":"Phi","t":5,"v":90},{"s":"Phi","t":5,"v":94},{"s":"Phi","t":5,"v":98},{"s":"Phi","t":5,"v":102},{"s":"Phi","t":5,"v":106},{"s":"Phi","t":5,"v":110},{"s":"Phi","t":5,"v":113},{"s":"Phi","t":5.05,"v":88},{"s":"Phi","t":5.05,"v":92},{"s":"Phi","t":5.05,"v":96},{"s":"Phi","t":5.05,"v":100},{"s":"Phi","t":5.05,"v":104},{"s":"Phi","t":5.05,"v":108},{"s":"Phi","t":5.05,"v":112},{"s":"Phi","t":5.1,"v":88},{"s":"Phi","t":5.1,"v":92},{"s":"Phi","t":5.1,"v":96},{"s":"Phi","t":5.1,"v":100},{"s":"Phi","t":5.1,"v":104},{"s":"Phi","t":5.1,"v":108},{"s":"Phi","t":5.1,"v":111},{"s":"Phi","t":5.15,"v":90},{"s":"Phi","t":5.15,"v":94},{"s":"Phi","t":5.15,"v":98},{"s":"Phi","t":5.15,"v":102},{"s":"Phi","t":5.15,"v":106},{"s":"Phi","t":5.15,"v":110},{"s":"Phi","t":5.2,"v":88},{"s":"Phi","t":5.2,"v":92},{"s":"Phi","t":5.2,"v":96},{"s":"Phi","t":5.2,"v":100},{"s":"Phi","t":5.2,"v":104},{"s":"Phi","t":5.2,"v":108},{"s":"Phi","t":5.2,"v":111},{"s":"Phi","t":5.25,"v":90},{"s":"Phi","t":5.25,"v":94},{"s":"Phi","t":5.25,"v":98},{"s":"Phi","t":5.25,"v":102},{"s":"Phi","t":5.25,"v":106},{"s":"Phi","t":5.25,"v":110},{"s":"Phi","t":5.3,"v":90},{"s":"Phi","t":5.3,"v":94},{"s":"Phi","t":5.3,"v":98},{"s":"Phi","t":5.3,"v":102},{"s":"Phi","t":5.3,"v":106},{"s":"Phi","t":5.3,"v":110},{"s":"Phi","t":5.3,"v":113},{"s":"Phi","t":5.35,"v":92},{"s":"Phi","t":5.35,"v":96},{"s":"Phi","t":5.35,"v":100},{"s":"Phi","t":5.35,"v":104},{"s":"Phi","t":5.35,"v":108},{"s":"Phi","t":5.35,"v":112},{"s":"Phi","t":5.4,"v":94},{"s":"Phi","t":5.4,"v":98},{"s":"Phi","t":5.4,"v":102},{"s":"Phi","t":5.4,"v":106},{"s":"Phi","t":5.4,"v":110},{"s":"Phi","t":5.4,"v":114},{"s":"Phi","t":5.45,"v":96},{"s":"Phi","t":5.45,"v":100},{"s":"Phi","t":5.45,"v":104},{"s":"Phi","t":5.45,"v":108},{"s":"Phi","t":5.45,"v":112},{"s":"Phi","t":5.45,"v":116},{"s":"Phi","t":5.5,"v":96},{"s":"Phi","t":5.5,"v":100},{"s":"Phi","t":5.5,"v":104},{"s":"Phi","t":5.5,"v":108},{"s":"Phi","t":5.5,"v":112},{"s":"Phi","t":5.5,"v":116},{"s":"Phi","t":5.5,"v":119},{"s":"Phi","t":5.55,"v":98},{"s":"Phi","t":5.55,"v":102},{"s":"Phi","t":5.55,"v":106},{"s":"Phi","t":5.55,"v":110},{"s":"Phi","t":5.55,"v":114},{"s":"Phi","t":5.55,"v":118},{"s":"Phi","t":5.55,"v":121},{"s":"Phi","t":5.6,"v":98},{"s":"Phi","t":5.6,"v":102},{"s":"Phi","t":5.6,"v":106},{"s":"Phi","t":5.6,"v":110},{"s":"Phi","t":5.6,"v":114},{"s":"Phi","t":5.6,"v":118},{"s":"Phi","t":5.6,"v":122},{"s":"Phi","t":5.6,"v":123},{"s":"Phi","t":5.65,"v":100},{"s":"Phi","t":5.65,"v":104},{"s":"Phi","t":5.65,"v":108},{"s":"Phi","t":5.65,"v":112},{"s":"Phi","t":5.65,"v":116},{"s":"Phi","t":5.65,"v":120},{"s":"Phi","t":5.65,"v":123},{"s":"Phi","t":5.7,"v":96},{"s":"Phi","t":5.7,"v":100},{"s":"Phi","t":5.7,"v":104},{"s":"Phi","t":5.7,"v":108},{"s":"Phi","t":5.7,"v":112},{"s":"Phi","t":5.7,"v":116},{"s":"Phi","t":5.7,"v":120},{"s":"Phi","t":5.7,"v":123},{"s":"Phi","t":5.75,"v":98},{"s":"Phi","t":5.75,"v":102},{"s":"Phi","t":5.75,"v":106},{"s":"Phi","t":5.75,"v":110},{"s":"Phi","t":5.75,"v":114},{"s":"Phi","t":5.75,"v":118},{"s":"Phi","t":5.75,"v":121},{"s":"Phi","t":5.8,"v":92},{"s":"Phi","t":5.8,"v":96},{"s":"Phi","t":5.8,"v":100},{"s":"Phi","t":5.8,"v":104},{"s":"Phi","t":5.8,"v":108},{"s":"Phi","t":5.8,"v":112},{"s":"Phi","t":5.85,"v":84},{"s":"Phi","t":5.85,"v":88},{"s":"Phi","t":5.85,"v":92},{"s":"Phi","t":5.85,"v":96},{"s":"Phi","t":5.85,"v":100},{"s":"Phi","t":5.9,"v":70},{"s":"Phi","t":5.9,"v":74},{"s":"Phi","t":5.9,"v":78},{"s":"Phi","t":5.9,"v":82},{"s":"Phi","t":5.9,"v":86},{"s":"Phi","t":5.95,"v":72},{"s":"Phi","t":5.95,"v":76},{"s":"Phi","t":5.95,"v":80},{"s":"Phi","t":5.95,"v":84},{"s":"Phi","t":6,"v":74},{"s":"Phi","t":6,"v":77},{"s":"Phi","t":6,"v":80},{"s":"Phi","t":6,"v":83},{"s":"Phi","t":6.1,"v":76},{"s":"Phi","t":6.1,"v":79},{"s":"Phi","t":6.1,"v":82},{"s":"Phi","t":6.1,"v":84},{"s":"Phi","t":6.2,"v":75},{"s":"Phi","t":6.2,"v":78},{"s":"Phi","t":6.2,"v":81},{"s":"Phi","t":6.2,"v":83.5},{"s":"Phi","t":6.3,"v":77},{"s":"Phi","t":6.3,"v":79.5},{"s":"Phi","t":6.3,"v":82},{"s":"Phi","t":6.4,"v":75.5},{"s":"Phi","t":6.4,"v":78},{"s":"Phi","t":6.4,"v":80.5},{"s":"Phi","t":6.5,"v":78},{"s":"Phi","t":6.5,"v":80.5},{"s":"Phi","t":6.5,"v":83},{"s":"Phi","t":6.6,"v":76},{"s":"Phi","t":6.6,"v":78.5},{"s":"Phi","t":6.6,"v":81},{"s":"Phi","t":6.7,"v":78},{"s":"Phi","t":6.7,"v":80.5},{"s":"Phi","t":6.7,"v":82.5},{"s":"Phi","t":6.8,"v":75.5},{"s":"Phi","t":6.8,"v":78},{"s":"Phi","t":6.8,"v":80},{"s":"Phi","t":6.9,"v":77.5},{"s":"Phi","t":6.9,"v":80},{"s":"Phi","t":6.9,"v":82},{"s":"Phi","t":7,"v":75},{"s":"Phi","t":7,"v":77.5},{"s":"Phi","t":7,"v":79.5},{"s":"Phi","t":7.1,"v":76.5},{"s":"Phi","t":7.1,"v":79},{"s":"Phi","t":7.1,"v":81},{"s":"Phi","t":7.2,"v":78},{"s":"Phi","t":7.2,"v":80},{"s":"Phi","t":7.2,"v":82},
{"s":"Phi","t":13.85,"v":84},{"s":"Phi","t":13.85,"v":81},{"s":"Phi","t":13.85,"v":78},{"s":"Phi","t":13.85,"v":75},{"s":"Phi","t":13.9,"v":82},{"s":"Phi","t":13.9,"v":79.5},{"s":"Phi","t":13.9,"v":77},{"s":"Phi","t":14,"v":80.5},{"s":"Phi","t":14,"v":77},{"s":"Phi","t":14,"v":74},{"s":"Phi","t":14.1,"v":81},{"s":"Phi","t":14.1,"v":78.5},{"s":"Phi","t":14.2,"v":81},{"s":"Phi","t":14.2,"v":78.6},{"s":"Phi","t":14.3,"v":81},{"s":"Phi","t":14.3,"v":78.6},{"s":"Phi","t":14.4,"v":81},{"s":"Phi","t":14.4,"v":78.6},{"s":"Phi","t":14.5,"v":81},{"s":"Phi","t":14.5,"v":78.6},{"s":"Phi","t":14.6,"v":81},{"s":"Phi","t":14.6,"v":78.6},{"s":"Phi","t":14.7,"v":81},{"s":"Phi","t":14.7,"v":78.6},{"s":"Phi","t":14.8,"v":81},{"s":"Phi","t":14.8,"v":78.6},{"s":"Phi","t":14.9,"v":81},{"s":"Phi","t":14.9,"v":78.6},{"s":"Phi","t":15,"v":81},{"s":"Phi","t":15,"v":78.6},{"s":"Phi","t":15.1,"v":81},{"s":"Phi","t":15.1,"v":78.6},{"s":"Phi","t":15.2,"v":81},{"s":"Phi","t":15.2,"v":78.6},{"s":"Phi","t":15.3,"v":81},{"s":"Phi","t":15.3,"v":78.6},{"s":"Phi","t":15.4,"v":81},{"s":"Phi","t":15.4,"v":78.6},{"s":"Phi","t":15.5,"v":81},{"s":"Phi","t":15.5,"v":78.6},{"s":"Phi","t":15.6,"v":81},{"s":"Phi","t":15.6,"v":78.6},{"s":"Phi","t":15.7,"v":81},{"s":"Phi","t":15.7,"v":78.6},{"s":"Phi","t":15.8,"v":81},{"s":"Phi","t":15.8,"v":78.6},{"s":"Phi","t":15.9,"v":81},{"s":"Phi","t":15.9,"v":78.6},{"s":"Phi","t":16,"v":81},{"s":"Phi","t":16,"v":78.6},{"s":"Phi","t":16.1,"v":81},{"s":"Phi","t":16.1,"v":78.6},{"s":"Phi","t":16.2,"v":81},{"s":"Phi","t":16.2,"v":78.6},{"s":"Phi","t":16.3,"v":81},{"s":"Phi","t":16.3,"v":78.6},{"s":"Phi","t":16.4,"v":81},{"s":"Phi","t":16.4,"v":78.6},{"s":"Phi","t":16.5,"v":81},{"s":"Phi","t":16.5,"v":78.6},{"s":"Phi","t":16.6,"v":81},{"s":"Phi","t":16.6,"v":78.6},{"s":"Phi","t":16.7,"v":81},{"s":"Phi","t":16.7,"v":78.6},{"s":"Phi","t":16.8,"v":81},{"s":"Phi","t":16.8,"v":78.6},{"s":"Phi","t":16.9,"v":81},{"s":"Phi","t":16.9,"v":78.6},{"s":"Phi","t":17,"v":81},{"s":"Phi","t":17,"v":78.6},{"s":"Phi","t":17.1,"v":81},{"s":"Phi","t":17.1,"v":78.6},
{"s":"Phi","t":17.2,"v":80.5},{"s":"Phi","t":17.2,"v":78},{"s":"Phi","t":17.25,"v":79},{"s":"Phi","t":17.25,"v":76},{"s":"Phi","t":17.3,"v":77},{"s":"Phi","t":17.3,"v":74},{"s":"Phi","t":17.3,"v":71.5},{"s":"Phi","t":17.35,"v":71},{"s":"Phi","t":17.35,"v":75},{"s":"Phi","t":17.35,"v":79},{"s":"Phi","t":17.35,"v":83},{"s":"Phi","t":17.35,"v":87},{"s":"Phi","t":17.4,"v":73},{"s":"Phi","t":17.4,"v":77},{"s":"Phi","t":17.4,"v":81},{"s":"Phi","t":17.4,"v":85},{"s":"Phi","t":17.4,"v":89},{"s":"Phi","t":17.4,"v":93},{"s":"Phi","t":17.4,"v":97},{"s":"Phi","t":17.4,"v":101},{"s":"Phi","t":17.4,"v":105},{"s":"Phi","t":17.45,"v":75},{"s":"Phi","t":17.45,"v":79},{"s":"Phi","t":17.45,"v":83},{"s":"Phi","t":17.45,"v":87},{"s":"Phi","t":17.45,"v":91},{"s":"Phi","t":17.45,"v":95},{"s":"Phi","t":17.45,"v":99},{"s":"Phi","t":17.45,"v":103},{"s":"Phi","t":17.45,"v":107},{"s":"Phi","t":17.5,"v":73},{"s":"Phi","t":17.5,"v":77},{"s":"Phi","t":17.5,"v":81},{"s":"Phi","t":17.5,"v":85},{"s":"Phi","t":17.5,"v":89},{"s":"Phi","t":17.5,"v":93},{"s":"Phi","t":17.5,"v":97},{"s":"Phi","t":17.5,"v":101},{"s":"Phi","t":17.5,"v":105},{"s":"Phi","t":17.5,"v":107},{"s":"Phi","t":17.55,"v":75},{"s":"Phi","t":17.55,"v":79},{"s":"Phi","t":17.55,"v":83},{"s":"Phi","t":17.55,"v":87},{"s":"Phi","t":17.55,"v":91},{"s":"Phi","t":17.55,"v":95},{"s":"Phi","t":17.55,"v":99},{"s":"Phi","t":17.55,"v":103},{"s":"Phi","t":17.55,"v":107},{"s":"Phi","t":17.6,"v":73},{"s":"Phi","t":17.6,"v":77},{"s":"Phi","t":17.6,"v":81},{"s":"Phi","t":17.6,"v":85},{"s":"Phi","t":17.6,"v":89},{"s":"Phi","t":17.6,"v":93},{"s":"Phi","t":17.6,"v":97},{"s":"Phi","t":17.6,"v":101},{"s":"Phi","t":17.6,"v":105},{"s":"Phi","t":17.65,"v":75},{"s":"Phi","t":17.65,"v":79},{"s":"Phi","t":17.65,"v":83},{"s":"Phi","t":17.65,"v":87},{"s":"Phi","t":17.65,"v":91},{"s":"Phi","t":17.65,"v":95},{"s":"Phi","t":17.65,"v":99},{"s":"Phi","t":17.65,"v":102},{"s":"Phi","t":17.7,"v":72},{"s":"Phi","t":17.7,"v":76},{"s":"Phi","t":17.7,"v":80},{"s":"Phi","t":17.7,"v":84},{"s":"Phi","t":17.7,"v":88},{"s":"Phi","t":17.7,"v":92},{"s":"Phi","t":17.7,"v":96},{"s":"Phi","t":17.7,"v":100},{"s":"Phi","t":17.75,"v":70},{"s":"Phi","t":17.75,"v":74},{"s":"Phi","t":17.75,"v":78},{"s":"Phi","t":17.75,"v":82},{"s":"Phi","t":17.75,"v":86},{"s":"Phi","t":17.75,"v":90},{"s":"Phi","t":17.75,"v":94},{"s":"Phi","t":17.75,"v":98},{"s":"Phi","t":17.8,"v":68},{"s":"Phi","t":17.8,"v":72},{"s":"Phi","t":17.8,"v":76},{"s":"Phi","t":17.8,"v":80},{"s":"Phi","t":17.8,"v":84},{"s":"Phi","t":17.8,"v":88},{"s":"Phi","t":17.8,"v":92},{"s":"Phi","t":17.8,"v":96},{"s":"Phi","t":17.8,"v":100},{"s":"Phi","t":17.85,"v":66},{"s":"Phi","t":17.85,"v":70},{"s":"Phi","t":17.85,"v":74},{"s":"Phi","t":17.85,"v":78},{"s":"Phi","t":17.85,"v":82},{"s":"Phi","t":17.85,"v":86},{"s":"Phi","t":17.85,"v":90},{"s":"Phi","t":17.85,"v":94},{"s":"Phi","t":17.85,"v":98},{"s":"Phi","t":17.9,"v":66},{"s":"Phi","t":17.9,"v":70},{"s":"Phi","t":17.9,"v":74},{"s":"Phi","t":17.9,"v":78},{"s":"Phi","t":17.9,"v":82},{"s":"Phi","t":17.9,"v":86},{"s":"Phi","t":17.9,"v":90},{"s":"Phi","t":17.9,"v":94},{"s":"Phi","t":17.9,"v":99},{"s":"Phi","t":17.95,"v":68},{"s":"Phi","t":17.95,"v":72},{"s":"Phi","t":17.95,"v":76},{"s":"Phi","t":17.95,"v":80},{"s":"Phi","t":17.95,"v":84},{"s":"Phi","t":17.95,"v":88},{"s":"Phi","t":17.95,"v":92},{"s":"Phi","t":17.95,"v":96},{"s":"Phi","t":17.95,"v":100},{"s":"Phi","t":18,"v":66},{"s":"Phi","t":18,"v":70},{"s":"Phi","t":18,"v":74},{"s":"Phi","t":18,"v":78},{"s":"Phi","t":18,"v":82},{"s":"Phi","t":18,"v":86},{"s":"Phi","t":18,"v":90},{"s":"Phi","t":18,"v":94},{"s":"Phi","t":18,"v":99},{"s":"Phi","t":18.05,"v":67},{"s":"Phi","t":18.05,"v":71},{"s":"Phi","t":18.05,"v":75},{"s":"Phi","t":18.05,"v":79},{"s":"Phi","t":18.05,"v":83},{"s":"Phi","t":18.05,"v":87},{"s":"Phi","t":18.05,"v":91},{"s":"Phi","t":18.1,"v":65.5},{"s":"Phi","t":18.1,"v":69},{"s":"Phi","t":18.1,"v":73},{"s":"Phi","t":18.1,"v":77},{"s":"Phi","t":18.1,"v":81},{"s":"Phi","t":18.1,"v":85},{"s":"Phi","t":18.1,"v":89},{"s":"Phi","t":18.15,"v":66},{"s":"Phi","t":18.15,"v":70},{"s":"Phi","t":18.15,"v":74},{"s":"Phi","t":18.15,"v":78},{"s":"Phi","t":18.15,"v":82},{"s":"Phi","t":18.15,"v":86},{"s":"Phi","t":18.15,"v":90},{"s":"Phi","t":18.2,"v":68},{"s":"Phi","t":18.2,"v":72},{"s":"Phi","t":18.2,"v":76},{"s":"Phi","t":18.2,"v":80},{"s":"Phi","t":18.2,"v":84},{"s":"Phi","t":18.25,"v":68},{"s":"Phi","t":18.25,"v":72},{"s":"Phi","t":18.25,"v":76},{"s":"Phi","t":18.25,"v":80},{"s":"Phi","t":18.25,"v":84},{"s":"Phi","t":18.3,"v":69},{"s":"Phi","t":18.3,"v":73},{"s":"Phi","t":18.3,"v":77},{"s":"Phi","t":18.3,"v":81},{"s":"Phi","t":18.3,"v":85},{"s":"Phi","t":18.35,"v":70},{"s":"Phi","t":18.35,"v":74},{"s":"Phi","t":18.35,"v":78},{"s":"Phi","t":18.35,"v":82},{"s":"Phi","t":18.35,"v":86},{"s":"Phi","t":18.4,"v":72},{"s":"Phi","t":18.4,"v":76},{"s":"Phi","t":18.4,"v":80},{"s":"Phi","t":18.4,"v":84},{"s":"Phi","t":18.4,"v":88},{"s":"Phi","t":18.4,"v":92},{"s":"Phi","t":18.4,"v":96},{"s":"Phi","t":18.45,"v":80},{"s":"Phi","t":18.45,"v":84},{"s":"Phi","t":18.45,"v":88},{"s":"Phi","t":18.45,"v":92},{"s":"Phi","t":18.45,"v":96},{"s":"Phi","t":18.45,"v":100},{"s":"Phi","t":18.45,"v":110},{"s":"Phi","t":18.45,"v":114},{"s":"Phi","t":18.45,"v":116.5},{"s":"Phi","t":18.5,"v":78},{"s":"Phi","t":18.5,"v":82},{"s":"Phi","t":18.5,"v":86},{"s":"Phi","t":18.5,"v":90},{"s":"Phi","t":18.5,"v":94},{"s":"Phi","t":18.5,"v":98},{"s":"Phi","t":18.5,"v":102},{"s":"Phi","t":18.5,"v":108},{"s":"Phi","t":18.5,"v":112},{"s":"Phi","t":18.5,"v":116.5},{"s":"Phi","t":18.55,"v":66},{"s":"Phi","t":18.55,"v":70},{"s":"Phi","t":18.55,"v":74},{"s":"Phi","t":18.55,"v":78},{"s":"Phi","t":18.55,"v":82},{"s":"Phi","t":18.55,"v":86},{"s":"Phi","t":18.55,"v":90},{"s":"Phi","t":18.55,"v":110},{"s":"Phi","t":18.55,"v":113},{"s":"Phi","t":18.6,"v":58},{"s":"Phi","t":18.6,"v":62},{"s":"Phi","t":18.6,"v":66},{"s":"Phi","t":18.6,"v":70},{"s":"Phi","t":18.6,"v":74},{"s":"Phi","t":18.6,"v":78},{"s":"Phi","t":18.6,"v":82},{"s":"Phi","t":18.6,"v":86},{"s":"Phi","t":18.6,"v":90},{"s":"Phi","t":18.65,"v":50},{"s":"Phi","t":18.65,"v":54},{"s":"Phi","t":18.65,"v":58},{"s":"Phi","t":18.65,"v":62},{"s":"Phi","t":18.65,"v":66},{"s":"Phi","t":18.65,"v":70},{"s":"Phi","t":18.65,"v":74},{"s":"Phi","t":18.7,"v":47},{"s":"Phi","t":18.7,"v":51},{"s":"Phi","t":18.7,"v":55},{"s":"Phi","t":18.7,"v":59},{"s":"Phi","t":18.7,"v":63},{"s":"Phi","t":18.75,"v":48},{"s":"Phi","t":18.75,"v":52},{"s":"Phi","t":18.75,"v":56},{"s":"Phi","t":18.75,"v":60},{"s":"Phi","t":18.75,"v":64},{"s":"Phi","t":18.8,"v":50},{"s":"Phi","t":18.8,"v":54},{"s":"Phi","t":18.8,"v":58},{"s":"Phi","t":18.8,"v":62},{"s":"Phi","t":18.8,"v":66},{"s":"Phi","t":18.8,"v":70},{"s":"Phi","t":18.8,"v":74},{"s":"Phi","t":18.8,"v":78},{"s":"Phi","t":18.85,"v":54},{"s":"Phi","t":18.85,"v":58},{"s":"Phi","t":18.85,"v":62},{"s":"Phi","t":18.85,"v":66},{"s":"Phi","t":18.85,"v":70},{"s":"Phi","t":18.85,"v":74},{"s":"Phi","t":18.85,"v":78},{"s":"Phi","t":18.85,"v":82},{"s":"Phi","t":18.9,"v":56},{"s":"Phi","t":18.9,"v":60},{"s":"Phi","t":18.9,"v":64},{"s":"Phi","t":18.9,"v":68},{"s":"Phi","t":18.9,"v":72},{"s":"Phi","t":18.9,"v":76},{"s":"Phi","t":18.9,"v":80},{"s":"Phi","t":18.9,"v":84},{"s":"Phi","t":18.95,"v":54},{"s":"Phi","t":18.95,"v":58},{"s":"Phi","t":18.95,"v":62},{"s":"Phi","t":18.95,"v":66},{"s":"Phi","t":18.95,"v":70},{"s":"Phi","t":18.95,"v":74},{"s":"Phi","t":18.95,"v":78},{"s":"Phi","t":18.95,"v":82},{"s":"Phi","t":18.95,"v":85},{"s":"Phi","t":19,"v":50},{"s":"Phi","t":19,"v":54},{"s":"Phi","t":19,"v":58},{"s":"Phi","t":19,"v":62},{"s":"Phi","t":19,"v":66},{"s":"Phi","t":19,"v":70},{"s":"Phi","t":19,"v":74},{"s":"Phi","t":19,"v":78},{"s":"Phi","t":19,"v":82},{"s":"Phi","t":19.05,"v":46},{"s":"Phi","t":19.05,"v":50},{"s":"Phi","t":19.05,"v":54},{"s":"Phi","t":19.05,"v":58},{"s":"Phi","t":19.05,"v":62},{"s":"Phi","t":19.05,"v":66},{"s":"Phi","t":19.05,"v":70},{"s":"Phi","t":19.05,"v":74},{"s":"Phi","t":19.05,"v":78},{"s":"Phi","t":19.1,"v":44},{"s":"Phi","t":19.1,"v":48},{"s":"Phi","t":19.1,"v":52},{"s":"Phi","t":19.1,"v":56},{"s":"Phi","t":19.1,"v":60},{"s":"Phi","t":19.1,"v":64},{"s":"Phi","t":19.1,"v":68},{"s":"Phi","t":19.15,"v":42},{"s":"Phi","t":19.15,"v":46},{"s":"Phi","t":19.15,"v":50},{"s":"Phi","t":19.15,"v":54},{"s":"Phi","t":19.15,"v":58},{"s":"Phi","t":19.15,"v":62},{"s":"Phi","t":19.2,"v":40},{"s":"Phi","t":19.2,"v":44},{"s":"Phi","t":19.2,"v":48},{"s":"Phi","t":19.2,"v":52},{"s":"Phi","t":19.25,"v":38},{"s":"Phi","t":19.25,"v":41},{"s":"Phi","t":19.25,"v":44},{"s":"Phi","t":19.25,"v":47},{"s":"Phi","t":19.3,"v":36},{"s":"Phi","t":19.3,"v":39},{"s":"Phi","t":19.3,"v":42},{"s":"Phi","t":19.3,"v":45},{"s":"Phi","t":19.35,"v":34},{"s":"Phi","t":19.35,"v":37},{"s":"Phi","t":19.35,"v":40},{"s":"Phi","t":19.35,"v":43},{"s":"Phi","t":19.4,"v":33},{"s":"Phi","t":19.4,"v":36},{"s":"Phi","t":19.4,"v":39},{"s":"Phi","t":19.4,"v":42},{"s":"Phi","t":19.45,"v":32},{"s":"Phi","t":19.45,"v":35},{"s":"Phi","t":19.45,"v":38},{"s":"Phi","t":19.45,"v":41},{"s":"Phi","t":19.5,"v":33},{"s":"Phi","t":19.5,"v":36},{"s":"Phi","t":19.5,"v":39},{"s":"Phi","t":19.5,"v":42},{"s":"Phi","t":19.55,"v":34},{"s":"Phi","t":19.55,"v":37},{"s":"Phi","t":19.55,"v":40},{"s":"Phi","t":19.55,"v":43},{"s":"Phi","t":19.6,"v":36},{"s":"Phi","t":19.6,"v":39},{"s":"Phi","t":19.6,"v":42},{"s":"Phi","t":19.7,"v":36},{"s":"Phi","t":19.7,"v":38.5},{"s":"Phi","t":19.7,"v":41},{"s":"Phi","t":19.8,"v":37},{"s":"Phi","t":19.8,"v":39.5},{"s":"Phi","t":19.8,"v":42},{"s":"Phi","t":19.9,"v":38},{"s":"Phi","t":19.9,"v":40},{"s":"Phi","t":19.9,"v":41.5},{"s":"Phi","t":20,"v":37},{"s":"Phi","t":20,"v":39.5},{"s":"Phi","t":20,"v":42},{"s":"Phi","t":20.1,"v":38.5},{"s":"Phi","t":20.1,"v":41},{"s":"Phi","t":20.2,"v":39},{"s":"Phi","t":20.2,"v":42},{"s":"Phi","t":20.3,"v":37.5},{"s":"Phi","t":20.3,"v":40.5},{"s":"Phi","t":20.4,"v":38.5},{"s":"Phi","t":20.4,"v":41.5},{"s":"Phi","t":20.5,"v":37},{"s":"Phi","t":20.5,"v":40},{"s":"Phi","t":20.6,"v":38},{"s":"Phi","t":20.6,"v":41},{"s":"Phi","t":20.7,"v":35.5},{"s":"Phi","t":20.7,"v":38},{"s":"Phi","t":20.7,"v":41}
]},
"mark": {"type": "point", "shape": "M-1,-0.8L1,-0.8L0,0.8Z", "filled": true, "size": 380, "opacity": 1, "strokeWidth": 0},
"encoding": {
 "x": {"field": "t", "type": "quantitative", "scale": {"domain": [-1.03, 21.7], "nice": false, "zero": false}, "axis": {"values": [0, 5, 10, 15, 20], "labelPadding": 15}},
 "y": {"field": "v", "type": "quantitative", "scale": {"domain": [-18, 135.7], "nice": false, "zero": false}, "axis": {"values": [0, 20, 40, 60, 80, 100, 120], "labelPadding": 13}},
 "color": {"field": "s", "type": "nominal",
  "scale": {"domain": ["X", "Y", "Z", "R", "Theta", "Phi"], "range": ["#1f77b4", "#ff7f0e", "#2ca02c", "#d62728", "#9467bd", "#8c564b"]},
  "legend": {"title": null, "orient": "none", "legendX": 457, "legendY": 516, "direction": "vertical",
   "symbolType": "M-1,-0.8L1,-0.8L0,0.8Z", "symbolSize": 380, "symbolStrokeWidth": 0, "symbolOpacity": 1,
   "labelFont": "DejaVu Sans", "labelFontSize": 30, "labelColor": "#222222",
   "padding": 13, "rowPadding": 18, "symbolOffset": 17, "labelOffset": 38,
   "fillColor": "rgba(255,255,255,0.8)", "strokeColor": "#cccccc", "cornerRadius": 8}}
}
}
